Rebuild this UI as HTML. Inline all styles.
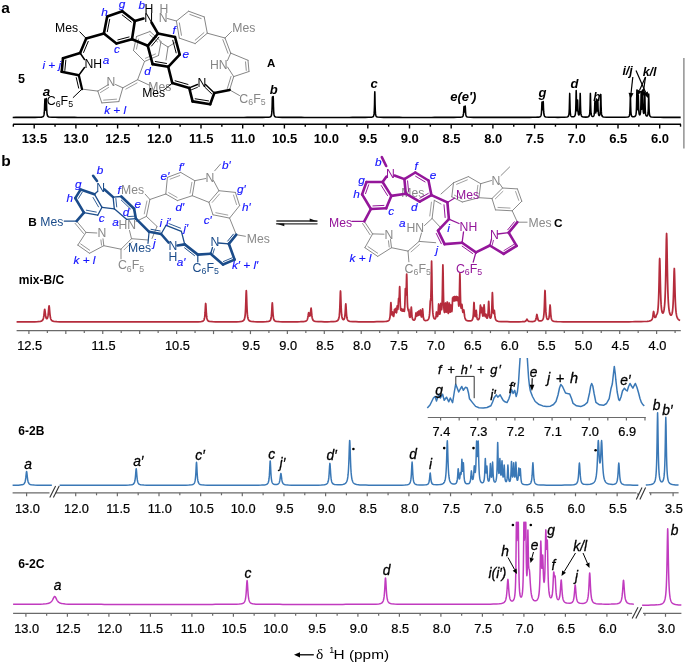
<!DOCTYPE html>
<html><head><meta charset="utf-8"><style>
html,body{margin:0;padding:0;background:#fff;}
svg{display:block;font-family:"Liberation Sans",sans-serif;filter:blur(0.35px);}
</style></head><body>
<svg width="685" height="663" viewBox="0 0 685 663">
<rect width="685" height="663" fill="#fff"/>
<text x="1.2" y="12.8" font-size="15.5" fill="#000" font-weight="bold">a</text>
<text x="1.2" y="165.8" font-size="15.5" fill="#000" font-weight="bold">b</text>
<line x1="13.1" y1="124.3" x2="681" y2="124.3" stroke="#000" stroke-width="1.4"/>
<line x1="13.35" y1="124.3" x2="13.35" y2="126.7" stroke="#000" stroke-width="1.4"/>
<line x1="34.2" y1="124.3" x2="34.2" y2="128.5" stroke="#000" stroke-width="1.4"/>
<line x1="55.05" y1="124.3" x2="55.05" y2="126.7" stroke="#000" stroke-width="1.4"/>
<line x1="75.9" y1="124.3" x2="75.9" y2="128.5" stroke="#000" stroke-width="1.4"/>
<line x1="96.75" y1="124.3" x2="96.75" y2="126.7" stroke="#000" stroke-width="1.4"/>
<line x1="117.6" y1="124.3" x2="117.6" y2="128.5" stroke="#000" stroke-width="1.4"/>
<line x1="138.45" y1="124.3" x2="138.45" y2="126.7" stroke="#000" stroke-width="1.4"/>
<line x1="159.3" y1="124.3" x2="159.3" y2="128.5" stroke="#000" stroke-width="1.4"/>
<line x1="180.15" y1="124.3" x2="180.15" y2="126.7" stroke="#000" stroke-width="1.4"/>
<line x1="201" y1="124.3" x2="201" y2="128.5" stroke="#000" stroke-width="1.4"/>
<line x1="221.85" y1="124.3" x2="221.85" y2="126.7" stroke="#000" stroke-width="1.4"/>
<line x1="242.7" y1="124.3" x2="242.7" y2="128.5" stroke="#000" stroke-width="1.4"/>
<line x1="263.55" y1="124.3" x2="263.55" y2="126.7" stroke="#000" stroke-width="1.4"/>
<line x1="284.4" y1="124.3" x2="284.4" y2="128.5" stroke="#000" stroke-width="1.4"/>
<line x1="305.25" y1="124.3" x2="305.25" y2="126.7" stroke="#000" stroke-width="1.4"/>
<line x1="326.1" y1="124.3" x2="326.1" y2="128.5" stroke="#000" stroke-width="1.4"/>
<line x1="346.95" y1="124.3" x2="346.95" y2="126.7" stroke="#000" stroke-width="1.4"/>
<line x1="367.8" y1="124.3" x2="367.8" y2="128.5" stroke="#000" stroke-width="1.4"/>
<line x1="388.65" y1="124.3" x2="388.65" y2="126.7" stroke="#000" stroke-width="1.4"/>
<line x1="409.5" y1="124.3" x2="409.5" y2="128.5" stroke="#000" stroke-width="1.4"/>
<line x1="430.35" y1="124.3" x2="430.35" y2="126.7" stroke="#000" stroke-width="1.4"/>
<line x1="451.2" y1="124.3" x2="451.2" y2="128.5" stroke="#000" stroke-width="1.4"/>
<line x1="472.05" y1="124.3" x2="472.05" y2="126.7" stroke="#000" stroke-width="1.4"/>
<line x1="492.9" y1="124.3" x2="492.9" y2="128.5" stroke="#000" stroke-width="1.4"/>
<line x1="513.75" y1="124.3" x2="513.75" y2="126.7" stroke="#000" stroke-width="1.4"/>
<line x1="534.6" y1="124.3" x2="534.6" y2="128.5" stroke="#000" stroke-width="1.4"/>
<line x1="555.45" y1="124.3" x2="555.45" y2="126.7" stroke="#000" stroke-width="1.4"/>
<line x1="576.3" y1="124.3" x2="576.3" y2="128.5" stroke="#000" stroke-width="1.4"/>
<line x1="597.15" y1="124.3" x2="597.15" y2="126.7" stroke="#000" stroke-width="1.4"/>
<line x1="618" y1="124.3" x2="618" y2="128.5" stroke="#000" stroke-width="1.4"/>
<line x1="638.85" y1="124.3" x2="638.85" y2="126.7" stroke="#000" stroke-width="1.4"/>
<line x1="659.7" y1="124.3" x2="659.7" y2="128.5" stroke="#000" stroke-width="1.4"/>
<line x1="680.55" y1="124.3" x2="680.55" y2="126.7" stroke="#000" stroke-width="1.4"/>
<text x="34.5" y="143.4" font-size="13" fill="#000" font-weight="bold" text-anchor="middle">13.5</text>
<text x="76.2" y="143.4" font-size="13" fill="#000" font-weight="bold" text-anchor="middle">13.0</text>
<text x="117.9" y="143.4" font-size="13" fill="#000" font-weight="bold" text-anchor="middle">12.5</text>
<text x="159.6" y="143.4" font-size="13" fill="#000" font-weight="bold" text-anchor="middle">12.0</text>
<text x="201.3" y="143.4" font-size="13" fill="#000" font-weight="bold" text-anchor="middle">11.5</text>
<text x="243" y="143.4" font-size="13" fill="#000" font-weight="bold" text-anchor="middle">11.0</text>
<text x="284.7" y="143.4" font-size="13" fill="#000" font-weight="bold" text-anchor="middle">10.5</text>
<text x="326.4" y="143.4" font-size="13" fill="#000" font-weight="bold" text-anchor="middle">10.0</text>
<text x="368.1" y="143.4" font-size="13" fill="#000" font-weight="bold" text-anchor="middle">9.5</text>
<text x="409.8" y="143.4" font-size="13" fill="#000" font-weight="bold" text-anchor="middle">9.0</text>
<text x="451.5" y="143.4" font-size="13" fill="#000" font-weight="bold" text-anchor="middle">8.5</text>
<text x="493.2" y="143.4" font-size="13" fill="#000" font-weight="bold" text-anchor="middle">8.0</text>
<text x="534.9" y="143.4" font-size="13" fill="#000" font-weight="bold" text-anchor="middle">7.5</text>
<text x="576.6" y="143.4" font-size="13" fill="#000" font-weight="bold" text-anchor="middle">7.0</text>
<text x="618.3" y="143.4" font-size="13" fill="#000" font-weight="bold" text-anchor="middle">6.5</text>
<text x="660" y="143.4" font-size="13" fill="#000" font-weight="bold" text-anchor="middle">6.0</text>
<polyline points="12.7,117.4 15.9,117.39 19.1,117.39 22.3,117.39 25.5,117.39 28.7,117.38 31.9,117.38 35.1,117.36 38.3,117.32 41.5,117.12 42.1,117.01 42.3,116.96 42.5,116.89 42.7,116.8 42.9,116.7 43.1,116.56 43.3,116.37 43.5,116.1 43.7,115.72 43.9,115.13 44.1,114.17 44.3,112.46 44.5,109.23 44.7,103.51 44.9,99 44.9,99 45.1,102.92 45.3,107.93 45.5,110.12 45.7,110.07 45.9,107.75 46.1,102.56 46.3,98.5 46.3,98.5 46.5,103.13 46.7,109.01 46.9,112.34 47.1,114.1 47.3,115.09 47.5,115.69 47.7,116.08 47.9,116.35 48.1,116.54 48.3,116.69 48.5,116.8 48.7,116.88 48.9,116.95 49.1,117.01 52.1,117.29 55.3,117.35 58.5,117.37 61.7,117.38 64.9,117.39 68.1,117.39 71.3,117.39 74.5,117.39 77.7,117.4 80.9,117.4 84.1,117.4 87.3,117.4 90.5,117.4 93.7,117.4 96.9,117.4 100.1,117.4 103.3,117.4 106.5,117.4 109.7,117.4 112.9,117.4 116.1,117.4 119.3,117.4 122.5,117.4 125.7,117.4 128.9,117.4 131.9,117.4 135.1,117.4 138.3,117.4 141.5,117.4 144.7,117.4 147.9,117.4 151.1,117.4 154.3,117.4 157.5,117.4 160.7,117.4 163.9,117.4 167.1,117.4 170.3,117.4 173.5,117.4 176.7,117.4 179.9,117.4 183.1,117.4 186.3,117.4 189.5,117.4 192.7,117.4 195.9,117.4 199.1,117.4 202.3,117.4 205.5,117.4 208.7,117.4 211.9,117.4 215.1,117.4 218.3,117.4 221.5,117.4 224.7,117.4 227.9,117.4 231.1,117.4 234.3,117.4 237.5,117.4 240.7,117.4 243.9,117.4 247.1,117.39 250.3,117.39 253.5,117.39 256.5,117.39 259.5,117.38 262.7,117.37 265.9,117.33 269.1,117.15 269.7,117.04 269.9,116.99 270.1,116.92 270.3,116.84 270.5,116.73 270.7,116.59 270.9,116.39 271.1,116.11 271.3,115.69 271.5,115.03 271.7,113.87 271.9,111.66 272.1,107.06 272.3,99.24 272.4,97 272.5,98.21 272.7,103.41 272.9,103.27 273.1,97.79 273.2,96.5 273.3,98.79 273.5,106.81 273.7,111.54 273.9,113.81 274.1,114.99 274.3,115.67 274.5,116.09 274.7,116.38 274.9,116.58 275.1,116.72 275.3,116.83 275.5,116.92 275.7,116.99 275.9,117.04 278.9,117.31 282.1,117.36 285.3,117.38 288.5,117.39 291.7,117.39 294.9,117.39 298.1,117.39 301.3,117.39 304.5,117.4 307.7,117.4 310.9,117.4 314.1,117.4 317.3,117.4 320.5,117.4 323.7,117.4 326.9,117.4 330.1,117.4 333.3,117.4 336.5,117.4 339.7,117.4 342.9,117.4 346.1,117.4 349.3,117.4 352.5,117.39 355.7,117.39 358.9,117.39 362.1,117.38 365.3,117.37 368.5,117.34 371.7,117.16 372.1,117.09 372.3,117.04 372.5,116.97 372.7,116.89 372.9,116.78 373.1,116.63 373.3,116.41 373.5,116.1 373.7,115.63 373.9,114.84 374.1,113.43 374.3,110.62 374.5,104.6 374.7,94.36 374.8,91.8 374.9,94.36 375.1,104.6 375.3,110.62 375.5,113.43 375.7,114.84 375.9,115.63 376.1,116.1 376.3,116.41 376.5,116.63 376.7,116.78 376.9,116.89 377.1,116.97 377.3,117.04 377.5,117.09 380.5,117.33 383.5,117.37 386.7,117.38 389.9,117.39 393.1,117.39 396.3,117.39 399.5,117.39 402.7,117.4 405.9,117.4 409.1,117.4 412.3,117.4 415.5,117.4 418.7,117.4 421.9,117.4 425.1,117.4 428.3,117.4 431.5,117.4 434.7,117.39 437.9,117.39 441.1,117.39 444.3,117.39 447.5,117.39 450.7,117.38 453.9,117.38 457.1,117.35 460.3,117.25 461.7,117.06 461.9,117.01 462.1,116.93 462.3,116.84 462.5,116.7 462.7,116.51 462.9,116.23 463.1,115.79 463.3,115.04 463.5,113.66 463.7,111.05 463.9,107.37 464,106.5 464.1,107.12 464.3,110.2 464.5,111.97 464.7,111.9 464.9,109.96 465.1,106.66 465.2,106 465.3,106.91 465.5,110.76 465.7,113.5 465.9,114.95 466.1,115.73 466.3,116.19 466.5,116.49 466.7,116.68 466.9,116.82 467.1,116.92 467.3,117 467.5,117.06 470.5,117.32 473.5,117.36 476.5,117.38 479.5,117.39 482.7,117.39 485.9,117.39 489.1,117.39 492.3,117.39 495.5,117.39 498.7,117.39 501.9,117.39 505.1,117.39 508.3,117.39 511.5,117.39 514.7,117.39 517.7,117.39 520.7,117.39 523.7,117.38 526.7,117.38 529.7,117.37 532.7,117.35 535.7,117.31 538.7,117.14 539.3,117.04 539.5,116.98 539.7,116.92 539.9,116.84 540.1,116.74 540.3,116.6 540.5,116.41 540.7,116.14 540.9,115.75 541.1,115.12 541.3,114.06 541.5,112.11 541.7,108.42 541.9,103.23 542,102 542.1,102.87 542.3,107.24 542.5,109.75 542.7,109.68 542.9,107 543.1,102.42 543.2,101.5 543.3,102.77 543.5,108.14 543.7,111.95 543.9,113.97 544.1,115.06 544.3,115.71 544.5,116.11 544.7,116.39 544.9,116.58 545.1,116.72 545.3,116.83 545.5,116.91 545.7,116.97 545.9,117.03 548.9,117.29 551.9,117.34 554.9,117.35 557.9,117.35 561.1,117.33 564.1,117.28 567.1,117.01 567.3,116.96 567.5,116.89 567.7,116.79 567.9,116.67 568.1,116.5 568.3,116.26 568.5,115.9 568.7,115.33 568.9,114.36 569.1,112.52 569.3,108.69 569.5,100.75 569.7,93.4 569.7,93.4 569.9,100.74 570.1,108.67 570.3,112.49 570.5,114.31 570.7,115.28 570.9,115.83 571.1,116.18 571.3,116.41 571.5,116.56 571.7,116.67 571.9,116.74 572.1,116.79 573.7,116.73 573.9,116.66 574.1,116.57 574.3,116.45 574.5,116.28 574.7,116.05 574.9,115.71 575.1,115.19 575.3,114.35 575.5,112.86 575.7,109.94 575.9,103.73 576.1,93.19 576.2,90.5 576.3,92.99 576.5,103.07 576.7,108.68 576.9,110.63 577.1,110.31 577.3,107.34 577.5,101.44 577.6,100 577.7,101.7 577.9,108.21 578.1,112.02 578.3,113.77 578.5,114.6 578.7,114.96 578.9,115.02 579.1,114.81 579.3,114.25 579.5,113.07 579.7,110.58 579.9,105.11 580.1,95.73 580.2,93.4 580.3,95.78 580.5,105.25 580.7,110.83 580.9,113.43 581.1,114.76 581.3,115.5 581.5,115.96 581.7,116.26 581.9,116.46 582.1,116.61 582.3,116.72 582.5,116.8 582.7,116.87 582.9,116.92 585.9,117.12 587.9,116.91 588.1,116.85 588.3,116.77 588.5,116.66 588.7,116.52 588.9,116.32 589.1,116.03 589.3,115.58 589.5,114.85 589.7,113.53 589.9,110.91 590.1,105.31 590.3,95.78 590.4,93.4 590.5,95.77 590.7,105.28 590.9,110.87 591.1,113.46 591.3,114.76 591.5,115.47 591.7,115.89 591.9,116.15 592.1,116.32 592.3,116.42 592.5,116.47 593.1,116.43 593.3,116.34 593.5,116.19 593.7,115.96 593.9,115.58 594.1,114.93 594.3,113.72 594.5,111.23 594.7,106.1 594.9,101.3 594.9,101.3 595.1,105.78 595.3,110.53 595.5,112.52 595.7,112.94 595.9,112.2 596.1,109.76 596.3,104.24 596.5,99 596.5,99 596.7,103.99 596.9,109.17 597.1,111.03 597.3,110.59 597.5,107.5 597.7,101.47 597.8,100 597.9,101.72 598.1,108.31 598.3,112.18 598.5,113.99 598.7,114.88 598.9,115.33 599.1,115.55 599.3,115.59 599.5,115.48 599.7,115.18 599.9,114.58 600.1,113.4 600.3,110.97 600.5,105.68 600.7,96.65 600.8,94.4 600.9,96.68 601.1,105.78 601.3,111.14 601.5,113.64 601.7,114.91 601.9,115.62 602.1,116.06 602.3,116.35 602.5,116.55 602.7,116.69 602.9,116.79 603.1,116.88 603.3,116.94 603.5,116.99 606.5,117.26 609.5,117.32 612.5,117.33 615.5,117.34 618.7,117.34 621.7,117.32 624.7,117.28 627.7,117.04 627.9,117 628.1,116.94 628.3,116.87 628.5,116.77 628.7,116.64 628.9,116.45 629.1,116.19 629.3,115.78 629.5,115.1 629.7,113.9 629.9,111.51 630.1,106.39 630.3,97.68 630.4,95.5 630.5,97.67 630.7,106.37 630.9,111.48 631.1,113.85 631.3,115.04 631.5,115.7 631.7,116.1 631.9,116.35 632.1,116.52 632.3,116.63 632.5,116.71 632.7,116.76 634.3,116.69 634.5,116.63 634.7,116.55 634.9,116.43 635.1,116.28 635.3,116.07 635.5,115.78 635.7,115.35 635.9,114.68 636.1,113.54 636.3,111.45 636.5,107.14 636.7,98.28 636.9,90 636.9,90 637.1,97.73 637.3,105.93 637.5,109.25 637.7,109.64 637.9,107.36 638.1,101.04 638.3,95 638.3,95 638.5,101.6 638.7,108.61 638.9,111.98 639.1,113.57 639.3,114.36 639.5,114.74 639.7,114.85 639.9,114.76 640.1,114.42 640.3,113.73 640.5,112.4 640.7,109.71 640.9,103.91 641.1,94.05 641.2,91.5 641.3,93.76 641.5,102.98 641.7,107.88 641.9,109.11 642.1,107.62 642.3,102.29 642.5,92.43 642.6,90 642.7,92.66 642.9,103.04 643.1,109.09 643.3,111.82 643.5,113.04 643.7,113.46 643.9,113.28 644.1,112.35 644.3,110.06 644.5,104.79 644.7,95.66 644.8,93.4 644.9,95.76 645.1,105.08 645.3,110.57 645.5,113.14 645.7,114.43 645.9,115.15 646.1,115.58 646.3,115.83 646.5,115.98 646.7,116.06 646.9,116.06 647.1,115.99 647.3,115.84 647.5,115.55 647.7,115.05 647.9,114.15 648.1,112.42 648.3,108.75 648.5,101.09 648.7,94 648.7,94 648.9,101.13 649.1,108.83 649.3,112.55 649.5,114.34 649.7,115.29 649.9,115.85 650.1,116.21 650.3,116.45 650.5,116.61 650.7,116.74 650.9,116.83 651.1,116.91 651.3,116.96 654.3,117.26 657.3,117.32 660.3,117.35 663.5,117.36 666.5,117.37 669.5,117.38 672.5,117.38 675.5,117.38 678.5,117.39 680.7,117.39" fill="none" stroke="#000" stroke-width="1.55" stroke-linejoin="round"/>
<text x="18" y="82.9" font-size="12.5" fill="#000" font-weight="bold">5</text>
<text x="267" y="67" font-size="11.5" fill="#000" font-weight="bold">A</text>
<text x="46.6" y="95.8" font-size="13.5" fill="#000" font-weight="bold" font-style="italic" text-anchor="middle">a</text>
<text x="273.8" y="93.6" font-size="13" fill="#000" font-weight="bold" font-style="italic" text-anchor="middle">b</text>
<text x="374" y="87.9" font-size="13" fill="#000" font-weight="bold" font-style="italic" text-anchor="middle">c</text>
<text x="463.3" y="101.3" font-size="13" fill="#000" font-weight="bold" font-style="italic" text-anchor="middle">e(e′)</text>
<text x="542.6" y="96.7" font-size="13" fill="#000" font-weight="bold" font-style="italic" text-anchor="middle">g</text>
<text x="574.6" y="87.5" font-size="13" fill="#000" font-weight="bold" font-style="italic" text-anchor="middle">d</text>
<text x="597" y="101.3" font-size="12" fill="#000" font-weight="bold" font-style="italic" text-anchor="middle">h</text>
<text x="627.6" y="74.6" font-size="12.5" fill="#000" font-weight="bold" font-style="italic" text-anchor="middle">i/j</text>
<text x="649.6" y="75.6" font-size="12.5" fill="#000" font-weight="bold" font-style="italic" text-anchor="middle">k/l</text>
<line x1="683.9" y1="58" x2="683.9" y2="148.5" stroke="#777" stroke-width="1.2"/>
<line x1="16.6" y1="330.6" x2="680.8" y2="330.6" stroke="#6a6a6a" stroke-width="1.2"/>
<line x1="28.9" y1="330.6" x2="28.9" y2="334.1" stroke="#6a6a6a" stroke-width="1.2"/>
<line x1="47.36" y1="330.6" x2="47.36" y2="333.1" stroke="#6a6a6a" stroke-width="1.2"/>
<line x1="65.82" y1="330.6" x2="65.82" y2="334.1" stroke="#6a6a6a" stroke-width="1.2"/>
<line x1="84.29" y1="330.6" x2="84.29" y2="333.1" stroke="#6a6a6a" stroke-width="1.2"/>
<line x1="102.75" y1="330.6" x2="102.75" y2="334.1" stroke="#6a6a6a" stroke-width="1.2"/>
<line x1="121.21" y1="330.6" x2="121.21" y2="333.1" stroke="#6a6a6a" stroke-width="1.2"/>
<line x1="139.67" y1="330.6" x2="139.67" y2="334.1" stroke="#6a6a6a" stroke-width="1.2"/>
<line x1="158.14" y1="330.6" x2="158.14" y2="333.1" stroke="#6a6a6a" stroke-width="1.2"/>
<line x1="176.6" y1="330.6" x2="176.6" y2="334.1" stroke="#6a6a6a" stroke-width="1.2"/>
<line x1="195.06" y1="330.6" x2="195.06" y2="333.1" stroke="#6a6a6a" stroke-width="1.2"/>
<line x1="213.53" y1="330.6" x2="213.53" y2="334.1" stroke="#6a6a6a" stroke-width="1.2"/>
<line x1="231.99" y1="330.6" x2="231.99" y2="333.1" stroke="#6a6a6a" stroke-width="1.2"/>
<line x1="250.45" y1="330.6" x2="250.45" y2="334.1" stroke="#6a6a6a" stroke-width="1.2"/>
<line x1="268.91" y1="330.6" x2="268.91" y2="333.1" stroke="#6a6a6a" stroke-width="1.2"/>
<line x1="287.37" y1="330.6" x2="287.37" y2="334.1" stroke="#6a6a6a" stroke-width="1.2"/>
<line x1="305.84" y1="330.6" x2="305.84" y2="333.1" stroke="#6a6a6a" stroke-width="1.2"/>
<line x1="324.3" y1="330.6" x2="324.3" y2="334.1" stroke="#6a6a6a" stroke-width="1.2"/>
<line x1="342.76" y1="330.6" x2="342.76" y2="333.1" stroke="#6a6a6a" stroke-width="1.2"/>
<line x1="361.22" y1="330.6" x2="361.22" y2="334.1" stroke="#6a6a6a" stroke-width="1.2"/>
<line x1="379.69" y1="330.6" x2="379.69" y2="333.1" stroke="#6a6a6a" stroke-width="1.2"/>
<line x1="398.15" y1="330.6" x2="398.15" y2="334.1" stroke="#6a6a6a" stroke-width="1.2"/>
<line x1="416.61" y1="330.6" x2="416.61" y2="333.1" stroke="#6a6a6a" stroke-width="1.2"/>
<line x1="435.07" y1="330.6" x2="435.07" y2="334.1" stroke="#6a6a6a" stroke-width="1.2"/>
<line x1="453.54" y1="330.6" x2="453.54" y2="333.1" stroke="#6a6a6a" stroke-width="1.2"/>
<line x1="472" y1="330.6" x2="472" y2="334.1" stroke="#6a6a6a" stroke-width="1.2"/>
<line x1="490.46" y1="330.6" x2="490.46" y2="333.1" stroke="#6a6a6a" stroke-width="1.2"/>
<line x1="508.92" y1="330.6" x2="508.92" y2="334.1" stroke="#6a6a6a" stroke-width="1.2"/>
<line x1="527.39" y1="330.6" x2="527.39" y2="333.1" stroke="#6a6a6a" stroke-width="1.2"/>
<line x1="545.85" y1="330.6" x2="545.85" y2="334.1" stroke="#6a6a6a" stroke-width="1.2"/>
<line x1="564.31" y1="330.6" x2="564.31" y2="333.1" stroke="#6a6a6a" stroke-width="1.2"/>
<line x1="582.77" y1="330.6" x2="582.77" y2="334.1" stroke="#6a6a6a" stroke-width="1.2"/>
<line x1="601.24" y1="330.6" x2="601.24" y2="333.1" stroke="#6a6a6a" stroke-width="1.2"/>
<line x1="619.7" y1="330.6" x2="619.7" y2="334.1" stroke="#6a6a6a" stroke-width="1.2"/>
<line x1="638.16" y1="330.6" x2="638.16" y2="333.1" stroke="#6a6a6a" stroke-width="1.2"/>
<line x1="656.62" y1="330.6" x2="656.62" y2="334.1" stroke="#6a6a6a" stroke-width="1.2"/>
<line x1="675.09" y1="330.6" x2="675.09" y2="333.1" stroke="#6a6a6a" stroke-width="1.2"/>
<text x="29.7" y="350.4" font-size="12.8" fill="#000" text-anchor="middle" stroke="#000" stroke-width="0.22">12.5</text>
<text x="103.55" y="350.4" font-size="12.8" fill="#000" text-anchor="middle" stroke="#000" stroke-width="0.22">11.5</text>
<text x="177.4" y="350.4" font-size="12.8" fill="#000" text-anchor="middle" stroke="#000" stroke-width="0.22">10.5</text>
<text x="251.25" y="350.4" font-size="12.8" fill="#000" text-anchor="middle" stroke="#000" stroke-width="0.22">9.5</text>
<text x="288.17" y="350.4" font-size="12.8" fill="#000" text-anchor="middle" stroke="#000" stroke-width="0.22">9.0</text>
<text x="325.1" y="350.4" font-size="12.8" fill="#000" text-anchor="middle" stroke="#000" stroke-width="0.22">8.5</text>
<text x="362.02" y="350.4" font-size="12.8" fill="#000" text-anchor="middle" stroke="#000" stroke-width="0.22">8.0</text>
<text x="398.95" y="350.4" font-size="12.8" fill="#000" text-anchor="middle" stroke="#000" stroke-width="0.22">7.5</text>
<text x="435.87" y="350.4" font-size="12.8" fill="#000" text-anchor="middle" stroke="#000" stroke-width="0.22">7.0</text>
<text x="472.8" y="350.4" font-size="12.8" fill="#000" text-anchor="middle" stroke="#000" stroke-width="0.22">6.5</text>
<text x="509.72" y="350.4" font-size="12.8" fill="#000" text-anchor="middle" stroke="#000" stroke-width="0.22">6.0</text>
<text x="546.65" y="350.4" font-size="12.8" fill="#000" text-anchor="middle" stroke="#000" stroke-width="0.22">5.5</text>
<text x="583.57" y="350.4" font-size="12.8" fill="#000" text-anchor="middle" stroke="#000" stroke-width="0.22">5.0</text>
<text x="620.5" y="350.4" font-size="12.8" fill="#000" text-anchor="middle" stroke="#000" stroke-width="0.22">4.5</text>
<text x="657.42" y="350.4" font-size="12.8" fill="#000" text-anchor="middle" stroke="#000" stroke-width="0.22">4.0</text>
<text x="18.8" y="284" font-size="12" fill="#000" font-weight="bold">mix-B/C</text>
<polyline points="16.6,321.88 19.6,321.87 22.6,321.87 25.6,321.86 28.6,321.84 31.6,321.82 34.6,321.78 37.6,321.67 40.35,321.38 40.6,321.32 40.85,321.26 41.1,321.18 41.35,321.09 41.6,320.97 41.85,320.83 42.1,320.66 42.35,320.44 42.6,320.14 42.85,319.76 43.1,319.23 43.35,318.48 43.6,317.42 43.85,315.91 44.1,313.83 44.35,311.4 44.6,309.61 44.7,309.4 44.85,309.77 45.1,311.7 45.35,313.99 45.6,315.83 45.85,317.09 46.1,317.91 46.35,318.4 46.6,318.64 46.85,318.69 47.1,318.54 47.35,318.2 47.6,317.59 47.85,316.63 48.1,315.17 48.35,313.04 48.6,310.19 48.85,307.24 49.1,305.9 49.35,307.33 49.6,310.36 49.85,313.3 50.1,315.55 50.35,317.12 50.6,318.22 50.85,319 51.1,319.56 51.35,319.97 51.6,320.29 51.85,320.53 52.1,320.72 52.35,320.88 52.6,321 52.85,321.1 53.1,321.19 53.35,321.26 53.6,321.32 53.85,321.38 56.85,321.68 59.85,321.78 62.85,321.82 66.1,321.85 69.1,321.86 72.1,321.87 75.1,321.87 78.1,321.88 81.1,321.88 84.1,321.88 87.1,321.89 90.1,321.89 93.1,321.89 96.1,321.89 99.1,321.89 102.1,321.89 105.1,321.89 108.1,321.89 111.1,321.89 114.1,321.89 117.1,321.89 120.1,321.89 123.1,321.89 126.1,321.89 129.1,321.89 132.1,321.89 135.1,321.89 138.1,321.89 141.1,321.89 144.1,321.89 147.1,321.89 150.1,321.89 153.1,321.89 156.1,321.89 159.1,321.89 162.1,321.89 165.1,321.89 168.1,321.89 171.1,321.89 174.1,321.88 177.1,321.88 180.1,321.88 183.1,321.88 186.1,321.87 189.1,321.87 192.1,321.85 195.1,321.83 198.1,321.77 201.1,321.58 201.6,321.5 201.85,321.45 202.1,321.39 202.35,321.31 202.6,321.22 202.85,321.11 203.1,320.96 203.35,320.76 203.6,320.5 203.85,320.14 204.1,319.62 204.35,318.85 204.6,317.67 204.85,315.77 205.1,312.69 205.35,308.17 205.6,304 205.7,303.5 205.85,304.58 206.1,309.16 206.35,313.43 206.6,316.23 206.85,317.95 207.1,319.03 207.35,319.74 207.6,320.22 207.85,320.55 208.1,320.8 208.35,320.99 208.6,321.13 208.85,321.24 209.1,321.33 209.35,321.4 209.6,321.46 212.6,321.74 215.6,321.81 218.6,321.84 221.6,321.84 224.6,321.85 227.6,321.84 230.6,321.83 233.6,321.81 236.6,321.76 239.6,321.63 241.6,321.38 241.85,321.32 242.1,321.25 242.35,321.17 242.6,321.07 242.85,320.96 243.1,320.81 243.35,320.63 243.6,320.4 243.85,320.11 244.1,319.71 244.35,319.17 244.6,318.41 244.85,317.3 245.1,315.62 245.35,312.96 245.6,308.63 245.85,301.86 246.1,293.73 246.3,290.6 246.35,290.82 246.6,296.85 246.85,304.88 247.1,310.61 247.35,314.17 247.6,316.38 247.85,317.8 248.1,318.75 248.35,319.4 248.6,319.88 248.85,320.23 249.1,320.5 249.35,320.71 249.6,320.87 249.85,321 250.1,321.11 250.35,321.2 250.6,321.27 250.85,321.33 251.1,321.39 254.1,321.68 257.1,321.76 260.1,321.78 263.1,321.76 266.1,321.68 268.35,321.43 268.6,321.37 268.85,321.3 269.1,321.21 269.35,321.1 269.6,320.97 269.85,320.79 270.1,320.55 270.35,320.22 270.6,319.76 270.85,319.09 271.1,318.07 271.35,316.45 271.6,313.83 271.85,309.73 272.1,304.8 272.3,302.9 272.35,303.03 272.6,306.69 272.85,311.56 273.1,315.04 273.35,317.19 273.6,318.53 273.85,319.39 274.1,319.97 274.35,320.37 274.6,320.65 274.85,320.87 275.1,321.03 275.35,321.16 275.6,321.26 275.85,321.34 276.1,321.4 276.35,321.46 279.35,321.73 282.35,321.79 285.35,321.82 288.35,321.82 291.35,321.82 294.35,321.81 297.35,321.79 300.35,321.74 303.35,321.58 304.6,321.42 304.85,321.37 305.1,321.31 305.35,321.24 305.6,321.15 305.85,321.04 306.1,320.91 306.35,320.74 306.6,320.53 306.85,320.24 307.1,319.85 307.35,319.31 307.6,318.55 307.85,317.46 308.1,315.98 308.35,314.24 308.6,312.9 308.7,312.7 308.85,312.85 309.1,313.94 309.35,315.18 309.6,315.96 309.85,316.13 310.1,315.63 310.35,314.33 310.6,312.13 310.85,309.48 311.1,308.2 311.35,309.79 311.6,312.78 311.85,315.38 312.1,317.21 312.35,318.42 312.6,319.23 312.85,319.79 313.1,320.19 313.35,320.49 313.6,320.71 313.85,320.88 314.1,321.02 314.35,321.12 314.6,321.21 314.85,321.29 315.1,321.35 315.35,321.4 318.35,321.67 321.35,321.74 324.35,321.76 327.35,321.75 330.35,321.71 333.35,321.6 335.6,321.34 335.85,321.29 336.1,321.23 336.35,321.16 336.6,321.07 336.85,320.97 337.1,320.85 337.35,320.69 337.6,320.5 337.85,320.26 338.1,319.95 338.35,319.53 338.6,318.96 338.85,318.15 339.1,316.96 339.35,315.15 339.6,312.27 339.85,307.59 340.1,300.46 340.35,292.81 340.5,291 340.6,291.82 340.85,298.75 341.1,306.26 341.35,311.35 341.6,314.48 341.85,316.41 342.1,317.63 342.35,318.42 342.6,318.95 342.85,319.28 343.1,319.48 343.35,319.56 343.6,319.53 343.85,319.38 344.1,319.08 344.35,318.56 344.6,317.7 344.85,316.27 345.1,313.9 345.35,310.15 345.6,305.63 345.8,303.9 345.85,304.03 346.1,307.45 346.35,311.99 346.6,315.24 346.85,317.26 347.1,318.52 347.35,319.33 347.6,319.88 347.85,320.27 348.1,320.54 348.35,320.75 348.6,320.92 348.85,321.04 349.1,321.14 349.35,321.23 349.6,321.29 349.85,321.35 352.85,321.65 355.85,321.74 358.85,321.77 361.85,321.79 364.85,321.79 367.85,321.79 370.85,321.78 373.85,321.77 376.85,321.74 379.85,321.7 382.85,321.62 385.85,321.42 386.85,321.27 387.1,321.22 387.35,321.16 387.6,321.09 387.85,321 388.1,320.89 388.35,320.75 388.6,320.58 388.85,320.34 389.1,320.02 389.35,319.57 389.6,318.89 389.85,317.82 390.1,316.01 390.35,312.81 390.6,307.58 390.85,302.82 390.9,302.6 391.1,304.9 391.35,310.15 391.6,313.51 391.85,314.84 392.1,314.62 392.35,313.12 392.6,312 392.85,313.47 393.1,315.43 393.35,316.4 393.6,316.41 393.85,315.49 394.1,313.37 394.35,310.38 394.5,309.4 394.6,309.54 394.85,311.36 395.1,312.23 395.35,311.01 395.6,308.8 395.7,308.5 395.85,309.22 396.1,311.65 396.35,312.9 396.6,312.32 396.85,309.85 397.1,306.57 397.2,306 397.35,306.54 397.6,308.84 397.85,309.47 398.1,307.41 398.35,302.65 398.6,298.5 398.85,299.31 399.1,299.51 399.35,294.64 399.6,287.47 399.7,286.7 399.85,289.6 400.1,299.17 400.35,306.17 400.6,309.52 400.85,310.23 401.1,309.12 401.3,308.5 401.35,308.6 401.6,310.17 401.85,310.82 402.1,309.62 402.2,309.4 402.35,310.04 402.6,311.15 402.85,310.01 403,309.4 403.1,309.68 403.35,311.03 403.6,310.32 403.8,309.4 403.85,309.47 404.1,310.97 404.35,311.3 404.6,309.45 404.85,304.94 405.1,296.99 405.35,289.18 405.4,288.6 405.6,290.5 405.85,294.99 406.1,294.09 406.35,286.03 406.6,275.3 406.7,274.1 406.85,278.13 407.1,291.72 407.35,301.83 407.6,306.86 407.85,308.49 408,309 408.1,309.61 408.35,310.93 408.6,310.04 408.8,309.4 408.85,309.69 409.1,313.01 409.35,315.66 409.6,316.94 409.85,317.44 410.1,317.41 410.35,316.85 410.6,315.5 410.85,312.83 411.1,308.85 411.3,307.1 411.35,307.25 411.6,310.74 411.85,314.58 412.1,316.92 412.35,318.24 412.6,319.01 412.85,319.48 413.1,319.77 413.35,319.96 413.6,320.06 414.1,320.08 414.35,319.98 414.6,319.8 414.85,319.47 415.1,318.89 415.35,317.86 415.6,316.07 415.85,313.72 416,313 416.1,313.16 416.35,314.84 416.6,316.07 416.85,316.05 417.1,314.75 417.35,312.62 417.5,312 417.6,312.24 417.85,314.12 418.1,315.46 418.35,315.44 418.6,314.02 418.85,311.68 419,311 419.1,311.28 419.35,313.39 419.6,314.9 419.85,314.88 420.1,313.29 420.35,310.68 420.5,310 420.6,310.42 420.85,313.24 421.1,315.63 421.35,316.77 421.6,316.95 421.85,316.24 422.1,314.35 422.35,311.07 422.6,308.9 422.85,311.35 423.1,314.94 423.35,317.25 423.6,318.55 423.85,319.31 424.1,319.77 424.35,320.07 424.6,320.26 424.85,320.39 425.1,320.48 425.35,320.53 426.6,320.47 426.85,320.4 427.1,320.31 427.35,320.19 427.6,320.04 427.85,319.84 428.1,319.58 428.35,319.25 428.6,318.8 428.85,318.18 429.1,317.27 429.35,315.9 429.6,313.68 429.85,309.99 430.1,304.64 430.3,301.2 430.35,300.79 430.6,300.38 430.85,297.64 431.1,288.55 431.35,272.21 431.6,261.2 431.85,273.31 432.1,291.12 432.35,302.54 432.6,308.95 432.85,312.64 433.1,314.9 433.35,316.34 433.6,317.3 433.85,317.96 434.1,318.4 434.35,318.69 434.6,318.86 434.85,318.9 435.1,318.82 435.35,318.56 435.6,318.02 435.85,316.99 436.1,315.14 436.35,312.71 436.5,312 436.6,312.23 436.85,314.22 437.1,315.88 437.35,316.52 437.6,316.35 437.85,315.34 438.1,313.14 438.35,309.17 438.6,304.65 438.7,304 438.85,305.14 439.1,309.56 439.35,312.74 439.6,314.11 439.85,314.16 440.1,312.95 440.35,310.11 440.6,305.7 440.8,303.5 440.85,303.53 441.1,306.32 441.35,309.07 441.6,309.59 441.85,307.87 442.1,303.38 442.35,294.45 442.6,279.23 442.85,265.43 442.9,264.9 443.1,272.47 443.35,289.36 443.6,300.96 443.85,307.31 444.1,310.65 444.35,312.22 444.6,312.48 444.85,311.36 445.1,308.39 445.35,304.15 445.5,303 445.6,303.56 445.85,307.63 446.1,310.95 446.35,312.18 446.6,311.51 446.85,308.75 447.1,304.1 447.3,302 447.35,302.18 447.6,306.27 447.85,310.61 448.1,312.84 448.35,313.37 448.6,312.41 448.85,309.61 449.1,305.09 449.3,303 449.35,303.13 449.6,306.79 449.85,310.59 450.1,312.23 450.35,311.91 450.6,309.62 450.85,306.03 451,305 451.1,305.43 451.35,308.73 451.6,311.2 451.85,311.5 452.1,309.32 452.35,303.69 452.6,298 452.85,300.29 453.1,300.75 453.35,297.21 453.4,297 453.6,299.19 453.85,300.95 454.1,297.71 454.2,297 454.35,298.34 454.6,300.83 454.85,297.97 455,296.5 455.1,297.21 455.35,300.64 455.6,299.12 455.8,297 455.85,297.17 456.1,300.37 456.35,299.57 456.6,296.5 456.85,299.55 457.1,300.34 457.35,297.17 457.4,297 457.6,299.18 457.85,300.89 458.1,297.92 458.2,297.5 458.35,299.62 458.6,304.74 458.85,306.2 459.1,303.91 459.35,297.3 459.6,285.25 459.85,274.13 459.9,273.7 460.1,279.77 460.35,293.23 460.6,302.18 460.85,306.55 461.1,308.02 461.35,307.47 461.6,305.65 461.85,304.37 461.9,304.4 462.1,305.62 462.35,308.49 462.6,310.93 462.85,312.23 463.1,312.37 463.35,311.51 463.6,310.26 463.8,310 463.85,310.14 464.1,311.88 464.35,314.23 464.6,316.13 464.85,317.46 465.1,318.36 465.35,318.99 465.6,319.44 465.85,319.77 466.1,320.02 466.35,320.21 466.6,320.37 466.85,320.49 467.1,320.59 467.35,320.68 467.6,320.74 467.85,320.8 470.6,320.85 470.85,320.8 471.1,320.72 471.35,320.62 471.6,320.49 471.85,320.3 472.1,320.05 472.35,319.68 472.6,319.12 472.85,318.25 473.1,316.81 473.35,314.26 473.6,309.82 473.85,304.08 474,302.5 474.1,303.16 474.35,308.35 474.6,312.95 474.85,315.43 475.1,316.49 475.35,316.55 475.6,315.6 475.85,313.36 476.1,310.71 476.2,310.4 476.35,311.31 476.6,314.46 476.85,316.89 477.1,318.26 477.35,319.02 477.6,319.43 477.85,319.65 478.1,319.72 478.35,319.69 478.6,319.53 478.85,319.24 479.1,318.73 479.35,317.88 479.6,316.4 479.85,313.76 480.1,309.43 480.35,305.42 480.4,305.2 480.6,306.87 480.85,310.71 481.1,312.68 481.35,312.37 481.6,309.97 481.85,307.46 481.9,307.4 482.1,309.16 482.35,312.78 482.6,315.09 482.85,316.04 483.1,315.96 483.35,314.83 483.6,312.2 483.85,307.78 484.1,304.8 484.35,307.88 484.6,312.4 484.85,315.14 485.1,316.4 485.35,316.61 485.6,315.88 485.85,314.53 486,314.2 486.1,314.46 486.35,316.07 486.6,317.42 486.85,318.07 487.1,318.2 487.35,317.91 487.6,317.13 487.85,315.61 488.1,312.74 488.35,307.74 488.6,302.15 488.7,301.4 488.85,302.98 489.1,308.87 489.35,313.39 489.6,315.9 489.85,317.22 490.1,317.89 490.35,318.14 490.6,318.08 490.85,317.69 491.1,316.89 491.35,315.44 491.6,312.82 491.85,308.07 492.1,300.17 492.35,293 492.4,292.7 492.6,296.38 492.85,304.69 493.1,310.18 493.35,312.78 493.6,313.42 493.85,312.58 494.1,310.91 494.3,310.4 494.35,310.55 494.6,312.73 494.85,315.4 495.1,317.32 495.35,318.54 495.6,319.33 495.85,319.85 496.1,320.22 496.35,320.49 496.6,320.69 496.85,320.84 497.1,320.97 497.35,321.06 497.6,321.15 497.85,321.21 498.1,321.27 501.1,321.59 504.1,321.7 507.1,321.74 510.1,321.77 513.1,321.78 516.1,321.78 519.1,321.77 522.1,321.73 524.6,321.53 524.85,321.47 525.1,321.4 525.35,321.29 525.6,321.15 525.85,320.94 526.1,320.64 526.35,320.23 526.6,319.72 526.85,319.29 527,319.2 527.1,319.24 527.35,319.61 527.6,320.12 527.85,320.55 528.1,320.87 528.35,321.08 528.6,321.23 528.85,321.34 529.1,321.41 529.35,321.47 532.35,321.55 533.6,321.41 533.85,321.35 534.1,321.29 534.35,321.21 534.6,321.1 534.85,320.95 535.1,320.76 535.35,320.48 535.6,320.08 535.85,319.48 536.1,318.57 536.35,317.25 536.6,315.62 536.85,314.54 536.9,314.5 537.1,315.03 537.35,316.57 537.6,318.04 537.85,319.08 538.1,319.76 538.35,320.21 538.6,320.5 538.85,320.7 539.1,320.83 539.35,320.91 539.6,320.97 540.85,320.93 541.1,320.87 541.35,320.79 541.6,320.68 541.85,320.54 542.1,320.36 542.35,320.13 542.6,319.82 542.85,319.4 543.1,318.83 543.35,318.02 543.6,316.82 543.85,314.99 544.1,312.07 544.35,307.32 544.6,300.09 544.85,292.34 545,290.5 545.1,291.33 545.35,298.36 545.6,305.99 545.85,311.16 546.1,314.33 546.35,316.29 546.6,317.52 546.85,318.33 547.1,318.85 547.35,319.18 547.6,319.37 547.85,319.42 548.1,319.36 548.35,319.14 548.6,318.73 548.85,318.03 549.1,316.84 549.35,314.85 549.6,311.63 549.85,307.38 550.1,305 550.35,307.47 550.6,311.8 550.85,315.12 551.1,317.2 551.35,318.5 551.6,319.33 551.85,319.89 552.1,320.27 552.35,320.55 552.6,320.76 552.85,320.92 553.1,321.05 553.35,321.15 553.6,321.23 553.85,321.3 554.1,321.36 557.1,321.66 560.1,321.75 563.1,321.79 566.1,321.82 569.1,321.83 572.1,321.84 575.1,321.84 578.1,321.85 581.1,321.85 584.1,321.85 587.1,321.85 590.1,321.85 593.1,321.85 596.1,321.85 599.1,321.85 602.1,321.85 605.1,321.84 608.1,321.84 611.1,321.84 614.1,321.83 617.1,321.82 620.1,321.82 623.1,321.8 626.1,321.79 629.1,321.77 632.1,321.75 635.1,321.72 638.1,321.67 641.1,321.61 644.1,321.5 647.1,321.3 649.1,321.04 649.35,320.99 649.6,320.93 649.85,320.86 650.1,320.79 650.35,320.71 650.6,320.61 650.85,320.48 651.1,320.34 651.35,320.16 651.6,319.92 651.85,319.62 652.1,319.2 652.35,318.61 652.6,317.75 652.85,316.47 653.1,314.67 653.35,312.6 653.6,311.5 653.85,312.36 654.1,314.18 654.35,315.72 654.6,316.72 654.85,317.26 655.1,317.49 655.35,317.48 655.6,317.25 655.85,316.8 656.1,316.11 656.35,315.24 656.6,314.5 656.85,314.13 657.1,313.83 657.35,313.21 657.6,312.1 657.85,310.38 658.1,307.87 658.35,304.24 658.6,298.96 658.85,291.33 659.1,280.81 659.35,268.49 659.6,259.48 659.7,258.5 659.85,260.54 660.1,270.66 660.35,282.71 660.6,292.48 660.85,299.41 661.1,304.15 661.35,307.38 661.6,309.58 661.85,311.08 662.1,312.07 662.35,312.7 662.6,313.02 662.85,313.1 663.1,312.93 663.35,312.53 663.6,311.87 663.85,310.91 664.1,309.57 664.35,307.74 664.6,305.24 664.85,301.83 665.1,297.11 665.35,290.53 665.6,281.38 665.85,269.03 666.1,253.95 666.35,239.7 666.6,233.5 666.85,239.75 667.1,254.04 667.35,269.18 667.6,281.58 667.85,290.79 668.1,297.43 668.35,302.23 668.6,305.72 668.85,308.31 669.1,310.24 669.35,311.71 669.6,312.82 669.85,313.67 670.1,314.29 670.35,314.74 670.6,315.03 670.85,315.17 671.1,315.17 671.35,315.01 671.6,314.67 671.85,314.12 672.1,313.28 672.35,312.06 672.6,310.3 672.85,307.74 673.1,304.02 673.35,298.56 673.6,290.8 673.85,280.84 674.1,271.49 674.3,268.5 674.35,268.72 674.6,275.01 674.85,285.36 675.1,294.74 675.35,301.7 675.6,306.58 675.85,309.97 676.1,312.38 676.35,314.13 676.6,315.43 676.85,316.42 677.1,317.19 677.35,317.8 677.6,318.3 677.85,318.7 678.1,319.03 678.35,319.31 678.6,319.55 678.85,319.75 679.1,319.93 679.35,320.08 679.6,320.21 679.85,320.33 680.1,320.44" fill="none" stroke="#b52c3c" stroke-width="1.75" stroke-linejoin="round"/>
<line x1="12.6" y1="492.8" x2="49.5" y2="492.8" stroke="#6a6a6a" stroke-width="1.2"/>
<line x1="55.5" y1="492.8" x2="636.6" y2="492.8" stroke="#6a6a6a" stroke-width="1.2"/>
<line x1="649" y1="492.8" x2="678.6" y2="492.8" stroke="#6a6a6a" stroke-width="1.2"/>
<line x1="26.6" y1="492.8" x2="26.6" y2="496.3" stroke="#6a6a6a" stroke-width="1.2"/>
<line x1="75.7" y1="492.8" x2="75.7" y2="496.3" stroke="#6a6a6a" stroke-width="1.2"/>
<line x1="96.53" y1="492.8" x2="96.53" y2="495.3" stroke="#6a6a6a" stroke-width="1.2"/>
<line x1="117.35" y1="492.8" x2="117.35" y2="496.3" stroke="#6a6a6a" stroke-width="1.2"/>
<line x1="138.18" y1="492.8" x2="138.18" y2="495.3" stroke="#6a6a6a" stroke-width="1.2"/>
<line x1="159" y1="492.8" x2="159" y2="496.3" stroke="#6a6a6a" stroke-width="1.2"/>
<line x1="179.82" y1="492.8" x2="179.82" y2="495.3" stroke="#6a6a6a" stroke-width="1.2"/>
<line x1="200.65" y1="492.8" x2="200.65" y2="496.3" stroke="#6a6a6a" stroke-width="1.2"/>
<line x1="221.48" y1="492.8" x2="221.48" y2="495.3" stroke="#6a6a6a" stroke-width="1.2"/>
<line x1="242.3" y1="492.8" x2="242.3" y2="496.3" stroke="#6a6a6a" stroke-width="1.2"/>
<line x1="263.12" y1="492.8" x2="263.12" y2="495.3" stroke="#6a6a6a" stroke-width="1.2"/>
<line x1="283.95" y1="492.8" x2="283.95" y2="496.3" stroke="#6a6a6a" stroke-width="1.2"/>
<line x1="304.77" y1="492.8" x2="304.77" y2="495.3" stroke="#6a6a6a" stroke-width="1.2"/>
<line x1="325.6" y1="492.8" x2="325.6" y2="496.3" stroke="#6a6a6a" stroke-width="1.2"/>
<line x1="346.42" y1="492.8" x2="346.42" y2="495.3" stroke="#6a6a6a" stroke-width="1.2"/>
<line x1="367.25" y1="492.8" x2="367.25" y2="496.3" stroke="#6a6a6a" stroke-width="1.2"/>
<line x1="388.07" y1="492.8" x2="388.07" y2="495.3" stroke="#6a6a6a" stroke-width="1.2"/>
<line x1="408.9" y1="492.8" x2="408.9" y2="496.3" stroke="#6a6a6a" stroke-width="1.2"/>
<line x1="429.72" y1="492.8" x2="429.72" y2="495.3" stroke="#6a6a6a" stroke-width="1.2"/>
<line x1="450.55" y1="492.8" x2="450.55" y2="496.3" stroke="#6a6a6a" stroke-width="1.2"/>
<line x1="471.38" y1="492.8" x2="471.38" y2="495.3" stroke="#6a6a6a" stroke-width="1.2"/>
<line x1="492.2" y1="492.8" x2="492.2" y2="496.3" stroke="#6a6a6a" stroke-width="1.2"/>
<line x1="513.02" y1="492.8" x2="513.02" y2="495.3" stroke="#6a6a6a" stroke-width="1.2"/>
<line x1="533.85" y1="492.8" x2="533.85" y2="496.3" stroke="#6a6a6a" stroke-width="1.2"/>
<line x1="554.67" y1="492.8" x2="554.67" y2="495.3" stroke="#6a6a6a" stroke-width="1.2"/>
<line x1="575.5" y1="492.8" x2="575.5" y2="496.3" stroke="#6a6a6a" stroke-width="1.2"/>
<line x1="596.33" y1="492.8" x2="596.33" y2="495.3" stroke="#6a6a6a" stroke-width="1.2"/>
<line x1="617.15" y1="492.8" x2="617.15" y2="496.3" stroke="#6a6a6a" stroke-width="1.2"/>
<line x1="637.98" y1="492.8" x2="637.98" y2="495.3" stroke="#6a6a6a" stroke-width="1.2"/>
<line x1="650.7" y1="492.8" x2="650.7" y2="495.3" stroke="#6a6a6a" stroke-width="1.2"/>
<line x1="673.1" y1="492.8" x2="673.1" y2="496.3" stroke="#6a6a6a" stroke-width="1.2"/>
<text x="27.4" y="513.2" font-size="12.8" fill="#000" text-anchor="middle" stroke="#000" stroke-width="0.22">13.0</text>
<text x="76.5" y="513.2" font-size="12.8" fill="#000" text-anchor="middle" stroke="#000" stroke-width="0.22">12.0</text>
<text x="118.15" y="513.2" font-size="12.8" fill="#000" text-anchor="middle" stroke="#000" stroke-width="0.22">11.5</text>
<text x="159.8" y="513.2" font-size="12.8" fill="#000" text-anchor="middle" stroke="#000" stroke-width="0.22">11.0</text>
<text x="201.45" y="513.2" font-size="12.8" fill="#000" text-anchor="middle" stroke="#000" stroke-width="0.22">10.5</text>
<text x="243.1" y="513.2" font-size="12.8" fill="#000" text-anchor="middle" stroke="#000" stroke-width="0.22">10.0</text>
<text x="284.75" y="513.2" font-size="12.8" fill="#000" text-anchor="middle" stroke="#000" stroke-width="0.22">9.5</text>
<text x="326.4" y="513.2" font-size="12.8" fill="#000" text-anchor="middle" stroke="#000" stroke-width="0.22">9.0</text>
<text x="368.05" y="513.2" font-size="12.8" fill="#000" text-anchor="middle" stroke="#000" stroke-width="0.22">8.5</text>
<text x="409.7" y="513.2" font-size="12.8" fill="#000" text-anchor="middle" stroke="#000" stroke-width="0.22">8.0</text>
<text x="451.35" y="513.2" font-size="12.8" fill="#000" text-anchor="middle" stroke="#000" stroke-width="0.22">7.5</text>
<text x="493" y="513.2" font-size="12.8" fill="#000" text-anchor="middle" stroke="#000" stroke-width="0.22">7.0</text>
<text x="534.65" y="513.2" font-size="12.8" fill="#000" text-anchor="middle" stroke="#000" stroke-width="0.22">6.5</text>
<text x="576.3" y="513.2" font-size="12.8" fill="#000" text-anchor="middle" stroke="#000" stroke-width="0.22">6.0</text>
<text x="617.95" y="513.2" font-size="12.8" fill="#000" text-anchor="middle" stroke="#000" stroke-width="0.22">5.5</text>
<text x="673.9" y="513.2" font-size="12.8" fill="#000" text-anchor="middle" stroke="#000" stroke-width="0.22">3.5</text>
<text x="18.3" y="434.8" font-size="12" fill="#000" font-weight="bold">6-2B</text>
<polyline points="12.6,485.24 15.6,485.21 18.6,485.13 21.6,484.87 21.85,484.82 22.1,484.77 22.35,484.71 22.6,484.64 22.85,484.55 23.1,484.44 23.35,484.32 23.6,484.16 23.85,483.96 24.1,483.72 24.35,483.4 24.6,482.98 24.85,482.41 25.1,481.65 25.35,480.59 25.6,479.12 25.85,477.16 26.1,474.75 26.35,472.49 26.6,471.5 26.85,472.49 27.1,474.75 27.35,477.16 27.6,479.12 27.85,480.59 28.1,481.65 28.35,482.41 28.6,482.98 28.85,483.4 29.1,483.72 29.35,483.96 29.6,484.16 29.85,484.32 30.1,484.44 30.35,484.55 30.6,484.64 30.85,484.71 31.1,484.77 31.35,484.82 34.35,485.12 37.35,485.2 40.35,485.24 43.35,485.26 46.35,485.27 49.35,485.28 51.85,485.28" fill="none" stroke="#3a78b6" stroke-width="1.5" stroke-linejoin="round"/>
<polyline points="59.6,485.3 62.6,485.29 65.85,485.29 68.85,485.29 71.85,485.29 74.85,485.29 77.85,485.29 80.85,485.29 83.85,485.29 86.85,485.29 89.85,485.29 92.85,485.29 95.85,485.29 98.85,485.29 101.85,485.29 104.85,485.28 107.85,485.28 110.85,485.28 113.85,485.27 116.85,485.27 119.85,485.25 122.85,485.23 125.85,485.2 128.85,485.1 131.6,484.81 131.85,484.75 132.1,484.69 132.35,484.61 132.6,484.52 132.85,484.4 133.1,484.26 133.35,484.09 133.6,483.87 133.85,483.58 134.1,483.2 134.35,482.69 134.6,481.99 134.85,481.01 135.1,479.59 135.35,477.55 135.6,474.74 135.85,471.45 136.1,469.05 136.2,468.8 136.35,469.36 136.6,472.1 136.85,475.36 137.1,478.01 137.35,479.91 137.6,481.23 137.85,482.15 138.1,482.81 138.35,483.29 138.6,483.64 138.85,483.91 139.1,484.13 139.35,484.29 139.6,484.43 139.85,484.54 140.1,484.63 140.35,484.7 140.6,484.76 140.85,484.82 143.85,485.11 146.85,485.2 149.85,485.23 152.85,485.25 155.85,485.26 158.85,485.27 161.85,485.27 164.85,485.27 167.85,485.27 170.85,485.27 173.85,485.26 176.85,485.26 179.85,485.25 182.85,485.23 185.85,485.19 188.85,485.1 191.85,484.78 192.1,484.72 192.35,484.65 192.6,484.57 192.85,484.47 193.1,484.35 193.35,484.21 193.6,484.02 193.85,483.79 194.1,483.49 194.35,483.08 194.6,482.54 194.85,481.78 195.1,480.69 195.35,479.07 195.6,476.62 195.85,472.94 196.1,467.96 196.35,463.31 196.5,462.3 196.6,462.76 196.85,466.9 197.1,472.04 197.35,476 197.6,478.66 197.85,480.42 198.1,481.59 198.35,482.41 198.6,482.99 198.85,483.41 199.1,483.73 199.35,483.98 199.6,484.17 199.85,484.33 200.1,484.45 200.35,484.55 200.6,484.64 200.85,484.71 201.1,484.77 201.35,484.82 204.35,485.11 207.35,485.19 210.35,485.23 213.35,485.25 216.35,485.26 219.35,485.26 222.35,485.27 225.35,485.27 228.35,485.27 231.35,485.27 234.35,485.27 237.35,485.27 240.35,485.26 243.35,485.26 246.35,485.26 249.35,485.25 252.35,485.24 255.35,485.22 258.35,485.18 261.35,485.11 264.35,484.91 265.35,484.75 265.6,484.69 265.85,484.63 266.1,484.55 266.35,484.46 266.6,484.35 266.85,484.22 267.1,484.05 267.35,483.85 267.6,483.59 267.85,483.25 268.1,482.8 268.35,482.18 268.6,481.32 268.85,480.07 269.1,478.21 269.35,475.39 269.6,471.2 269.85,465.77 270.1,461.39 270.2,460.9 270.35,461.96 270.6,466.87 270.85,472.14 271.1,476.02 271.35,478.61 271.6,480.31 271.85,481.46 272.1,482.26 272.35,482.82 272.6,483.24 272.85,483.55 273.1,483.79 273.35,483.97 273.6,484.12 273.85,484.23 274.1,484.32 274.35,484.39 274.6,484.45 276.85,484.46 277.1,484.41 277.35,484.34 277.6,484.26 277.85,484.14 278.1,484 278.35,483.81 278.6,483.56 278.85,483.23 279.1,482.79 279.35,482.19 279.6,481.36 279.85,480.21 280.1,478.64 280.35,476.66 280.6,474.66 280.85,473.53 280.9,473.5 281.1,474.05 281.35,475.84 281.6,477.91 281.85,479.67 282.1,480.99 282.35,481.95 282.6,482.64 282.85,483.15 283.1,483.53 283.35,483.82 283.6,484.04 283.85,484.22 284.1,484.36 284.35,484.47 284.6,484.57 284.85,484.64 285.1,484.71 285.35,484.77 288.35,485.07 291.35,485.16 294.35,485.2 297.35,485.21 300.35,485.22 303.35,485.22 306.35,485.22 309.35,485.22 312.35,485.2 315.35,485.18 318.35,485.14 321.35,485.04 324.35,484.78 324.85,484.68 325.1,484.63 325.35,484.56 325.6,484.48 325.85,484.39 326.1,484.29 326.35,484.16 326.6,484 326.85,483.8 327.1,483.56 327.35,483.25 327.6,482.84 327.85,482.31 328.1,481.59 328.35,480.6 328.6,479.19 328.85,477.16 329.1,474.25 329.35,470.33 329.6,466 329.85,463.39 329.9,463.3 330.1,464.59 330.35,468.56 330.6,472.78 330.85,476.1 331.1,478.44 331.35,480.07 331.6,481.2 331.85,482.01 332.1,482.61 332.35,483.05 332.6,483.39 332.85,483.65 333.1,483.86 333.35,484.03 333.6,484.16 333.85,484.27 334.1,484.37 334.35,484.44 334.6,484.51 334.85,484.56 337.85,484.8 340.85,484.71 342.85,484.44 343.1,484.38 343.35,484.32 343.6,484.25 343.85,484.17 344.1,484.08 344.35,483.98 344.6,483.86 344.85,483.72 345.1,483.57 345.35,483.38 345.6,483.16 345.85,482.9 346.1,482.59 346.35,482.21 346.6,481.74 346.85,481.16 347.1,480.43 347.35,479.5 347.6,478.28 347.85,476.65 348.1,474.46 348.35,471.44 348.6,467.26 348.85,461.54 349.1,454.2 349.35,446.29 349.6,440.95 349.7,440.4 349.85,441.61 350.1,447.8 350.35,455.77 350.6,462.82 350.85,468.21 351.1,472.13 351.35,474.97 351.6,477.03 351.85,478.56 352.1,479.72 352.35,480.61 352.6,481.31 352.85,481.87 353.1,482.32 353.35,482.68 353.6,482.99 353.85,483.24 354.1,483.45 354.35,483.64 354.6,483.79 354.85,483.93 355.1,484.04 355.35,484.15 355.6,484.24 355.85,484.32 356.1,484.39 356.35,484.45 356.6,484.51 356.85,484.56 359.85,484.91 362.85,485.05 365.85,485.12 368.85,485.16 371.85,485.19 374.85,485.2 377.85,485.21 380.85,485.22 383.85,485.22 386.85,485.22 389.85,485.22 392.85,485.21 395.85,485.2 398.85,485.18 401.85,485.13 404.85,485.02 407.35,484.74 407.6,484.68 407.85,484.62 408.1,484.54 408.35,484.45 408.6,484.34 408.85,484.2 409.1,484.03 409.35,483.82 409.6,483.54 409.85,483.18 410.1,482.7 410.35,482.03 410.6,481.09 410.85,479.7 411.1,477.62 411.35,474.46 411.6,469.91 411.85,464.72 412.1,462.1 412.35,464.71 412.6,469.91 412.85,474.45 413.1,477.61 413.35,479.69 413.6,481.08 413.85,482.02 414.1,482.68 414.35,483.17 414.6,483.52 414.85,483.8 415.1,484.01 415.35,484.18 415.6,484.31 415.85,484.42 416.1,484.51 416.35,484.58 416.6,484.65 416.85,484.7 419.85,484.97 422.85,484.99 425.85,484.82 426.35,484.73 426.6,484.68 426.85,484.62 427.1,484.53 427.35,484.43 427.6,484.3 427.85,484.13 428.1,483.91 428.35,483.6 428.6,483.17 428.85,482.55 429.1,481.62 429.35,480.22 429.6,478.13 429.85,475.42 430.1,473.24 430.2,473 430.35,473.53 430.6,475.98 430.85,478.6 431.1,480.53 431.35,481.82 431.6,482.67 431.85,483.24 432.1,483.63 432.35,483.91 432.6,484.12 432.85,484.28 433.1,484.39 433.35,484.49 433.6,484.56 433.85,484.61 436.85,484.8 439.85,484.61 440.85,484.45 441.1,484.4 441.35,484.34 441.6,484.27 441.85,484.19 442.1,484.1 442.35,484 442.6,483.88 442.85,483.73 443.1,483.57 443.35,483.37 443.6,483.14 443.85,482.86 444.1,482.51 444.35,482.08 444.6,481.53 444.85,480.84 445.1,479.93 445.35,478.71 445.6,477.06 445.85,474.75 446.1,471.44 446.35,466.68 446.6,459.96 446.85,451.37 447.1,443.31 447.3,440.7 447.35,440.87 447.6,446.17 447.85,454.93 448.1,462.88 448.35,468.76 448.6,472.86 448.85,475.71 449.1,477.72 449.35,479.17 449.6,480.24 449.85,481.04 450.1,481.66 450.35,482.14 450.6,482.52 450.85,482.83 451.1,483.08 451.35,483.28 451.6,483.45 451.85,483.58 452.1,483.7 452.35,483.79 452.6,483.86 452.85,483.92 454.85,483.94 455.1,483.87 455.35,483.78 455.6,483.65 455.85,483.48 456.1,483.26 456.35,482.94 456.6,482.48 456.85,481.82 457.1,480.8 457.35,479.17 457.6,476.56 457.85,472.73 458.1,469.17 458.2,468.7 458.35,469.49 458.6,473.05 458.85,476.28 459.1,478.16 459.35,478.94 459.6,478.79 459.85,477.6 460.1,475.17 460.35,472.68 460.4,472.5 460.6,473.12 460.85,474.54 461.1,474.18 461.35,471.23 461.6,465.23 461.85,459.47 461.9,459.2 462.1,461.95 462.35,468.03 462.6,471.13 462.85,470.63 463.1,466.78 463.35,462.84 463.4,462.8 463.6,465.96 463.85,472.4 464.1,476.86 464.35,479.42 464.6,480.93 464.85,481.86 465.1,482.47 465.35,482.89 465.6,483.18 465.85,483.4 466.1,483.55 466.35,483.67 466.6,483.75 466.85,483.81 468.1,483.8 468.35,483.74 468.6,483.66 468.85,483.54 469.1,483.38 469.35,483.16 469.6,482.86 469.85,482.44 470.1,481.82 470.35,480.86 470.6,479.35 470.85,476.94 471.1,473.59 471.35,471.02 471.4,470.9 471.6,472.02 471.85,475.07 472.1,477.51 472.35,478.88 472.6,479.46 472.85,479.44 473.1,478.88 473.35,477.66 473.6,475.49 473.85,471.99 474.1,467.69 474.3,465.8 474.35,465.8 474.6,468.09 474.85,471.06 475.1,472.48 475.35,472.14 475.6,469.99 475.85,465.52 476.1,457.85 476.35,447.47 476.6,441 476.85,445.19 477.1,452.79 477.35,456.5 477.6,454.86 477.85,448.34 478.1,441.47 478.2,441 478.35,443.99 478.6,454.52 478.85,464.15 479.1,470.52 479.35,474.5 479.6,477.04 479.85,478.73 480.1,479.9 480.35,480.74 480.6,481.34 480.85,481.8 481.1,482.13 481.35,482.39 481.6,482.57 481.85,482.69 482.1,482.76 482.6,482.75 482.85,482.65 483.1,482.48 483.35,482.21 483.6,481.78 483.85,481.12 484.1,480.07 484.35,478.33 484.6,475.28 484.85,469.9 485.1,462.13 485.3,458.5 485.35,458.66 485.6,464.31 485.85,470.29 486.1,472.92 486.35,472.49 486.6,469.31 486.85,466.04 486.9,466 487.1,468.57 487.35,473.81 487.6,477.4 487.85,479.39 488.1,480.46 488.35,480.99 488.6,481.17 488.85,481.05 489.1,480.58 489.35,479.61 489.6,477.8 489.85,474.47 490.1,468.9 490.35,463.83 490.4,463.6 490.6,466.12 490.85,471.84 491.1,475.53 491.35,477.1 491.6,477.14 491.85,475.68 492.1,472.12 492.35,466.11 492.6,462.1 492.85,466.48 493.1,472.91 493.35,477.03 493.6,479.32 493.85,480.61 494.1,481.36 494.35,481.79 494.6,482.01 494.85,482.09 495.1,482.03 495.35,481.85 495.6,481.51 495.85,480.97 496.1,480.14 496.35,478.85 496.6,476.76 496.85,473.2 497.1,466.88 497.35,456.09 497.6,444.06 497.7,442.4 497.85,445.59 498.1,457.75 498.35,466.9 498.6,471.59 498.85,473.37 499.1,472.94 499.35,470.07 499.6,464.21 499.85,458.69 499.9,458.5 500.1,461.71 500.35,468.65 500.6,473.13 500.85,475.04 501.1,475.04 501.35,473.11 501.6,468.61 501.85,462.36 502,460.7 502.1,461.57 502.35,467.78 502.6,473.19 502.85,476.03 503.1,477.07 503.35,476.69 503.6,474.68 503.85,470.48 504.1,465.59 504.2,465 504.35,466.6 504.6,472.27 504.85,476.62 505.1,479.09 505.35,480.45 505.6,481.19 505.85,481.56 506.1,481.65 506.35,481.5 506.6,481.04 506.85,480.12 507.1,478.41 507.35,475.25 507.6,469.97 507.85,465.19 507.9,465 508.1,467.58 508.35,473.35 508.6,477.32 508.85,479.48 509.1,480.62 509.35,481.19 509.6,481.38 509.85,481.27 510.1,480.83 510.35,479.95 510.6,478.33 510.85,475.36 511.1,470.12 511.35,463.3 511.5,461.4 511.6,462.16 511.85,468.22 512.1,473.5 512.35,476.19 512.6,477.03 512.85,476.37 513.1,473.96 513.35,469.13 513.6,463.54 513.7,462.8 513.85,464.41 514.1,470.32 514.35,474.66 514.6,476.7 514.85,477.09 515.1,476.01 515.35,472.98 515.6,467.4 515.85,462.27 515.9,462.1 516.1,465.1 516.35,471.66 516.6,476.15 516.85,478.58 517.1,479.81 517.35,480.3 517.6,480.24 517.85,479.55 518.1,477.95 518.35,474.84 518.6,470.21 518.8,468 518.85,468.08 519.1,471.34 519.35,474.59 519.6,475.45 519.85,473.82 520.1,470.23 520.3,468.7 520.35,468.94 520.6,472.99 520.85,477.33 521.1,480 521.35,481.53 521.6,482.45 521.85,483.04 522.1,483.44 522.35,483.72 522.6,483.93 522.85,484.09 523.1,484.21 523.35,484.3 523.6,484.38 523.85,484.44 524.1,484.5 527.1,484.64 528.35,484.51 528.6,484.45 528.85,484.39 529.1,484.31 529.35,484.22 529.6,484.1 529.85,483.95 530.1,483.76 530.35,483.52 530.6,483.19 530.85,482.76 531.1,482.16 531.35,481.32 531.6,480.09 531.85,478.24 532.1,475.43 532.35,471.31 532.6,466.26 532.85,462.91 532.9,462.8 533.1,464.49 533.35,469.33 533.6,473.97 533.85,477.28 534.1,479.47 534.35,480.92 534.6,481.91 534.85,482.6 535.1,483.1 535.35,483.47 535.6,483.75 535.85,483.96 536.1,484.14 536.35,484.28 536.6,484.39 536.85,484.48 537.1,484.56 537.35,484.63 537.6,484.68 540.6,485 543.6,485.09 546.6,485.14 549.6,485.16 552.6,485.16 555.6,485.17 558.6,485.16 561.6,485.15 564.6,485.12 567.6,485.08 570.6,484.98 573.6,484.73 574.1,484.65 574.35,484.59 574.6,484.54 574.85,484.47 575.1,484.39 575.35,484.3 575.6,484.19 575.85,484.05 576.1,483.89 576.35,483.69 576.6,483.44 576.85,483.13 577.1,482.72 577.35,482.18 577.6,481.46 577.85,480.45 578.1,479.03 578.35,476.98 578.6,474.05 578.85,470.09 579.1,465.73 579.35,463.09 579.4,463 579.6,464.29 579.85,468.29 580.1,472.55 580.35,475.89 580.6,478.25 580.85,479.88 581.1,481.03 581.35,481.84 581.6,482.44 581.85,482.88 582.1,483.22 582.35,483.48 582.6,483.69 582.85,483.85 583.1,483.98 583.35,484.09 583.6,484.18 583.85,484.25 584.1,484.31 587.1,484.51 590.1,484.23 590.35,484.18 590.6,484.13 590.85,484.07 591.1,484.01 591.35,483.94 591.6,483.86 591.85,483.77 592.1,483.68 592.35,483.57 592.6,483.44 592.85,483.31 593.1,483.15 593.35,482.97 593.6,482.77 593.85,482.53 594.1,482.26 594.35,481.94 594.6,481.56 594.85,481.12 595.1,480.58 595.35,479.92 595.6,479.11 595.85,478.1 596.1,476.82 596.35,475.17 596.6,473.02 596.85,470.16 597.1,466.36 597.35,461.37 597.6,455.1 597.85,448.17 598.1,442.44 598.3,440.5 598.35,440.5 598.6,443.25 598.85,448.73 599.1,454.38 599.35,458.79 599.6,461.63 599.85,462.94 600.1,462.79 600.35,461.19 600.6,458.03 600.85,453.32 601.1,447.55 601.35,442.39 601.6,440.5 601.85,443.36 602.1,449.54 602.35,456.44 602.6,462.47 602.85,467.21 603.1,470.8 603.35,473.49 603.6,475.53 603.85,477.1 604.1,478.32 604.35,479.28 604.6,480.06 604.85,480.68 605.1,481.2 605.35,481.64 605.6,482 605.85,482.31 606.1,482.57 606.35,482.8 606.6,483 606.85,483.17 607.1,483.32 607.35,483.45 607.6,483.57 607.85,483.67 608.1,483.77 608.35,483.85 608.6,483.92 608.85,483.99 609.1,484.05 609.35,484.1 612.35,484.38 614.1,484.23 614.35,484.17 614.6,484.11 614.85,484.02 615.1,483.92 615.35,483.79 615.6,483.63 615.85,483.43 616.1,483.17 616.35,482.84 616.6,482.4 616.85,481.81 617.1,480.99 617.35,479.86 617.6,478.23 617.85,475.87 618.1,472.54 618.35,468.29 618.6,464.29 618.8,463 618.85,463.09 619.1,465.73 619.35,470.09 619.6,474.04 619.85,476.97 620.1,479.02 620.35,480.44 620.6,481.45 620.85,482.18 621.1,482.71 621.35,483.12 621.6,483.44 621.85,483.69 622.1,483.89 622.35,484.05 622.6,484.18 622.85,484.29 623.1,484.39 623.35,484.47 623.6,484.54 623.85,484.6 624.1,484.65 627.1,484.97 630.1,485.08 633.1,485.14 636.1,485.18 638.35,485.19" fill="none" stroke="#3a78b6" stroke-width="1.5" stroke-linejoin="round"/>
<polyline points="645.8,485.01 648.8,484.81 650.8,484.52 651.05,484.47 651.3,484.41 651.55,484.34 651.8,484.26 652.05,484.17 652.3,484.08 652.55,483.96 652.8,483.83 653.05,483.68 653.3,483.51 653.55,483.3 653.8,483.05 654.05,482.76 654.3,482.39 654.55,481.94 654.8,481.38 655.05,480.66 655.3,479.71 655.55,478.45 655.8,476.7 656.05,474.22 656.3,470.57 656.55,465 656.8,456.29 657.05,442.93 657.3,425.49 657.55,413.23 657.6,412.8 657.8,419.01 658.05,436.1 658.3,451.42 658.55,461.78 658.8,468.37 659.05,472.62 659.3,475.44 659.55,477.37 659.8,478.73 660.05,479.71 660.3,480.42 660.55,480.94 660.8,481.32 661.05,481.59 661.3,481.76 661.55,481.86 661.8,481.88 662.05,481.82 662.3,481.7 662.55,481.48 662.8,481.16 663.05,480.71 663.3,480.1 663.55,479.25 663.8,478.06 664.05,476.39 664.3,473.95 664.55,470.3 664.8,464.65 665.05,455.78 665.3,442.35 665.55,425.98 665.8,417.3 666.05,426.03 666.3,442.46 666.55,455.95 666.8,464.88 667.05,470.58 667.3,474.3 667.55,476.8 667.8,478.56 668.05,479.82 668.3,480.76 668.55,481.47 668.8,482.03 669.05,482.47 669.3,482.83 669.55,483.12 669.8,483.36 670.05,483.56 670.3,483.73 670.55,483.88 670.8,484 671.05,484.11 671.3,484.21 671.55,484.29 671.8,484.37 672.05,484.43 672.3,484.49 672.55,484.54 675.55,484.91 678.55,485.06" fill="none" stroke="#3a78b6" stroke-width="1.5" stroke-linejoin="round"/>
<line x1="49.8" y1="497.5" x2="55.6" y2="486" stroke="#333" stroke-width="1.1"/>
<line x1="636.3" y1="499.5" x2="642" y2="487.6" stroke="#333" stroke-width="1.1"/>
<line x1="53.4" y1="497.5" x2="59.2" y2="486" stroke="#333" stroke-width="1.1"/>
<line x1="639.9" y1="499.5" x2="645.6" y2="487.6" stroke="#333" stroke-width="1.1"/>
<text x="28" y="468.9" font-size="13.8" fill="#000" font-style="italic" text-anchor="middle" stroke="#000" stroke-width="0.3">a</text>
<text x="138.3" y="466.4" font-size="13.8" fill="#000" font-style="italic" text-anchor="middle" stroke="#000" stroke-width="0.3">a′</text>
<text x="200" y="460.2" font-size="13.8" fill="#000" font-style="italic" text-anchor="middle" stroke="#000" stroke-width="0.3">c′</text>
<text x="271.7" y="458.8" font-size="13.8" fill="#000" font-style="italic" text-anchor="middle" stroke="#000" stroke-width="0.3">c</text>
<text x="282.4" y="468" font-size="13.8" fill="#000" font-style="italic" text-anchor="middle" stroke="#000" stroke-width="0.3">j′</text>
<text x="331.7" y="459.9" font-size="13.8" fill="#000" font-style="italic" text-anchor="middle" stroke="#000" stroke-width="0.3">d′</text>
<text x="413" y="458.9" font-size="13.8" fill="#000" font-style="italic" text-anchor="middle" stroke="#000" stroke-width="0.3">d</text>
<text x="430.5" y="469.3" font-size="13.8" fill="#000" font-style="italic" text-anchor="middle" stroke="#000" stroke-width="0.3">i</text>
<text x="656.7" y="410" font-size="13.8" fill="#000" font-style="italic" text-anchor="middle" stroke="#000" stroke-width="0.3">b</text>
<text x="667.5" y="414.6" font-size="13.8" fill="#000" font-style="italic" text-anchor="middle" stroke="#000" stroke-width="0.3">b′</text>
<circle cx="353.4" cy="449" r="1.3" fill="#000"/>
<circle cx="444.2" cy="448.1" r="1.3" fill="#000"/>
<circle cx="473.5" cy="448.1" r="1.3" fill="#000"/>
<circle cx="595.6" cy="450.2" r="1.3" fill="#000"/>
<line x1="427.8" y1="417.5" x2="645.8" y2="417.5" stroke="#6a6a6a" stroke-width="1.2"/>
<line x1="440.6" y1="417.5" x2="440.6" y2="420.5" stroke="#6a6a6a" stroke-width="1.2"/>
<line x1="459.18" y1="417.5" x2="459.18" y2="420.5" stroke="#6a6a6a" stroke-width="1.2"/>
<line x1="477.76" y1="417.5" x2="477.76" y2="420.5" stroke="#6a6a6a" stroke-width="1.2"/>
<line x1="496.34" y1="417.5" x2="496.34" y2="420.5" stroke="#6a6a6a" stroke-width="1.2"/>
<line x1="514.92" y1="417.5" x2="514.92" y2="420.5" stroke="#6a6a6a" stroke-width="1.2"/>
<line x1="533.5" y1="417.5" x2="533.5" y2="420.5" stroke="#6a6a6a" stroke-width="1.2"/>
<line x1="552.08" y1="417.5" x2="552.08" y2="420.5" stroke="#6a6a6a" stroke-width="1.2"/>
<line x1="570.66" y1="417.5" x2="570.66" y2="420.5" stroke="#6a6a6a" stroke-width="1.2"/>
<line x1="589.24" y1="417.5" x2="589.24" y2="420.5" stroke="#6a6a6a" stroke-width="1.2"/>
<line x1="607.82" y1="417.5" x2="607.82" y2="420.5" stroke="#6a6a6a" stroke-width="1.2"/>
<line x1="626.4" y1="417.5" x2="626.4" y2="420.5" stroke="#6a6a6a" stroke-width="1.2"/>
<line x1="644.98" y1="417.5" x2="644.98" y2="420.5" stroke="#6a6a6a" stroke-width="1.2"/>
<text x="441.4" y="436.2" font-size="12.8" fill="#000" text-anchor="middle" stroke="#000" stroke-width="0.22">7.4</text>
<text x="478.56" y="436.2" font-size="12.8" fill="#000" text-anchor="middle" stroke="#000" stroke-width="0.22">7.3</text>
<text x="515.72" y="436.2" font-size="12.8" fill="#000" text-anchor="middle" stroke="#000" stroke-width="0.22">7.2</text>
<text x="552.88" y="436.2" font-size="12.8" fill="#000" text-anchor="middle" stroke="#000" stroke-width="0.22">7.1</text>
<text x="590.04" y="436.2" font-size="12.8" fill="#000" text-anchor="middle" stroke="#000" stroke-width="0.22">7.0</text>
<text x="627.2" y="436.2" font-size="12.8" fill="#000" text-anchor="middle" stroke="#000" stroke-width="0.22">6.9</text>
<polyline points="427.3,408 430,405 433.4,398 435,396.5 436.5,401 438.8,394.2 440.3,398 442.6,394.2 444.2,400.3 446.5,397.2 448.8,401.8 450.3,398 452.6,402.6 454.3,392 455.7,384.2 457.2,388 458.7,391.9 460.3,389 461.8,386.5 463.3,390.3 464.5,388.5 465.6,387.3 467.2,388 468.5,393 469.5,398.8 472.5,402.6 475.6,406.4 479,407.8 483.2,408 487,407.5 490.9,405.7 492.6,402 494,398 496.3,394.9 497.8,397.2 500.1,394.9 501.8,398 503.2,400.3 505,401.8 507,402.6 508.8,399 510.1,394.9 511.6,389.6 513.1,393.4 514.7,390.3 516.2,396.5 517.4,392 518.5,382.7 519.3,370 520.1,358" fill="none" stroke="#3a78b6" stroke-width="1.5" stroke-linejoin="round"/>
<polyline points="527.3,358 527.8,366 528.6,378 529.5,386 530.4,391 532.5,396.5 535.2,401.5 538.5,404.2 542.8,405.9 546.5,406.4 550.4,406.2 553.5,404.5 556,401.5 558,395 559.5,388 560.8,384.4 562.5,386.5 565.5,393 567.5,393.5 569.7,393.9 571.5,398.5 573.1,403.4 576.5,405.8 580.7,406.6 584.5,405 587.4,402.4 589.5,393 590.7,386 591.7,383.5 592.8,386 594.2,394 595.9,402.4 599.5,404.8 603.5,405.3 606.5,403.5 609.2,398.6 611.1,388.2 612.3,384 613,377.8 614.3,366.4 615.3,374 615.8,379.7 617.2,392 618.7,399.6 619.6,400.5 621,397 622.5,391 624.4,388.2 625.8,390 627.2,391 628.6,386.5 630,383.5 631.5,386 632.9,388.2 634.2,385.5 635.4,383.5 637,387.5 638.6,393 640,398.5 641.4,402.4 643,404.8 644.3,405.9" fill="none" stroke="#3a78b6" stroke-width="1.5" stroke-linejoin="round"/>
<text x="439" y="395.4" font-size="13.8" fill="#000" font-style="italic" text-anchor="middle" stroke="#000" stroke-width="0.3">g</text>
<text x="438" y="373.8" font-size="12.8" fill="#000" font-style="italic" stroke="#000" stroke-width="0.3" textLength="63" lengthAdjust="spacing">f + h′ + g′</text>
<polyline points="455.8,384.5 455.8,376.4 474.2,376.4 474.2,398.2" fill="none" stroke="#333" stroke-width="1" stroke-linejoin="round"/>
<text x="493" y="400" font-size="13.8" fill="#000" font-style="italic" text-anchor="middle" stroke="#000" stroke-width="0.3">i′</text>
<text x="512" y="392.8" font-size="13.8" fill="#000" font-style="italic" text-anchor="middle" stroke="#000" stroke-width="0.3">f′</text>
<text x="533.6" y="376.8" font-size="13.8" fill="#000" font-style="italic" text-anchor="middle" stroke="#000" stroke-width="0.3">e</text>
<line x1="532.2" y1="378.2" x2="532" y2="385.5" stroke="#000" stroke-width="1.1"/>
<polygon points="529.6,384.8 534.4,384.8 531.9,391" fill="#000"/>
<text x="547" y="382.9" font-size="14.5" fill="#000" font-style="italic" stroke="#000" stroke-width="0.3" textLength="31" lengthAdjust="spacing">j + h</text>
<text x="625.5" y="384.9" font-size="13.8" fill="#000" font-style="italic" text-anchor="middle" stroke="#000" stroke-width="0.3">e′</text>
<line x1="13.1" y1="613.3" x2="632.1" y2="613.3" stroke="#6a6a6a" stroke-width="1.2"/>
<line x1="643" y1="613.3" x2="681.4" y2="613.3" stroke="#6a6a6a" stroke-width="1.2"/>
<line x1="25.9" y1="613.3" x2="25.9" y2="616.8" stroke="#6a6a6a" stroke-width="1.2"/>
<line x1="46.65" y1="613.3" x2="46.65" y2="615.8" stroke="#6a6a6a" stroke-width="1.2"/>
<line x1="67.4" y1="613.3" x2="67.4" y2="616.8" stroke="#6a6a6a" stroke-width="1.2"/>
<line x1="88.15" y1="613.3" x2="88.15" y2="615.8" stroke="#6a6a6a" stroke-width="1.2"/>
<line x1="108.9" y1="613.3" x2="108.9" y2="616.8" stroke="#6a6a6a" stroke-width="1.2"/>
<line x1="129.65" y1="613.3" x2="129.65" y2="615.8" stroke="#6a6a6a" stroke-width="1.2"/>
<line x1="150.4" y1="613.3" x2="150.4" y2="616.8" stroke="#6a6a6a" stroke-width="1.2"/>
<line x1="171.15" y1="613.3" x2="171.15" y2="615.8" stroke="#6a6a6a" stroke-width="1.2"/>
<line x1="191.9" y1="613.3" x2="191.9" y2="616.8" stroke="#6a6a6a" stroke-width="1.2"/>
<line x1="212.65" y1="613.3" x2="212.65" y2="615.8" stroke="#6a6a6a" stroke-width="1.2"/>
<line x1="233.4" y1="613.3" x2="233.4" y2="616.8" stroke="#6a6a6a" stroke-width="1.2"/>
<line x1="254.15" y1="613.3" x2="254.15" y2="615.8" stroke="#6a6a6a" stroke-width="1.2"/>
<line x1="274.9" y1="613.3" x2="274.9" y2="616.8" stroke="#6a6a6a" stroke-width="1.2"/>
<line x1="295.65" y1="613.3" x2="295.65" y2="615.8" stroke="#6a6a6a" stroke-width="1.2"/>
<line x1="316.4" y1="613.3" x2="316.4" y2="616.8" stroke="#6a6a6a" stroke-width="1.2"/>
<line x1="337.15" y1="613.3" x2="337.15" y2="615.8" stroke="#6a6a6a" stroke-width="1.2"/>
<line x1="357.9" y1="613.3" x2="357.9" y2="616.8" stroke="#6a6a6a" stroke-width="1.2"/>
<line x1="378.65" y1="613.3" x2="378.65" y2="615.8" stroke="#6a6a6a" stroke-width="1.2"/>
<line x1="399.4" y1="613.3" x2="399.4" y2="616.8" stroke="#6a6a6a" stroke-width="1.2"/>
<line x1="420.15" y1="613.3" x2="420.15" y2="615.8" stroke="#6a6a6a" stroke-width="1.2"/>
<line x1="440.9" y1="613.3" x2="440.9" y2="616.8" stroke="#6a6a6a" stroke-width="1.2"/>
<line x1="461.65" y1="613.3" x2="461.65" y2="615.8" stroke="#6a6a6a" stroke-width="1.2"/>
<line x1="482.4" y1="613.3" x2="482.4" y2="616.8" stroke="#6a6a6a" stroke-width="1.2"/>
<line x1="503.15" y1="613.3" x2="503.15" y2="615.8" stroke="#6a6a6a" stroke-width="1.2"/>
<line x1="523.9" y1="613.3" x2="523.9" y2="616.8" stroke="#6a6a6a" stroke-width="1.2"/>
<line x1="544.65" y1="613.3" x2="544.65" y2="615.8" stroke="#6a6a6a" stroke-width="1.2"/>
<line x1="565.4" y1="613.3" x2="565.4" y2="616.8" stroke="#6a6a6a" stroke-width="1.2"/>
<line x1="586.15" y1="613.3" x2="586.15" y2="615.8" stroke="#6a6a6a" stroke-width="1.2"/>
<line x1="606.9" y1="613.3" x2="606.9" y2="616.8" stroke="#6a6a6a" stroke-width="1.2"/>
<line x1="627.65" y1="613.3" x2="627.65" y2="615.8" stroke="#6a6a6a" stroke-width="1.2"/>
<line x1="644.9" y1="613.3" x2="644.9" y2="615.8" stroke="#6a6a6a" stroke-width="1.2"/>
<line x1="665.5" y1="613.3" x2="665.5" y2="616.8" stroke="#6a6a6a" stroke-width="1.2"/>
<text x="26.7" y="633" font-size="12.8" fill="#000" text-anchor="middle" stroke="#000" stroke-width="0.22">13.0</text>
<text x="68.2" y="633" font-size="12.8" fill="#000" text-anchor="middle" stroke="#000" stroke-width="0.22">12.5</text>
<text x="109.7" y="633" font-size="12.8" fill="#000" text-anchor="middle" stroke="#000" stroke-width="0.22">12.0</text>
<text x="151.2" y="633" font-size="12.8" fill="#000" text-anchor="middle" stroke="#000" stroke-width="0.22">11.5</text>
<text x="192.7" y="633" font-size="12.8" fill="#000" text-anchor="middle" stroke="#000" stroke-width="0.22">11.0</text>
<text x="234.2" y="633" font-size="12.8" fill="#000" text-anchor="middle" stroke="#000" stroke-width="0.22">10.5</text>
<text x="275.7" y="633" font-size="12.8" fill="#000" text-anchor="middle" stroke="#000" stroke-width="0.22">10.0</text>
<text x="317.2" y="633" font-size="12.8" fill="#000" text-anchor="middle" stroke="#000" stroke-width="0.22">9.5</text>
<text x="358.7" y="633" font-size="12.8" fill="#000" text-anchor="middle" stroke="#000" stroke-width="0.22">9.0</text>
<text x="400.2" y="633" font-size="12.8" fill="#000" text-anchor="middle" stroke="#000" stroke-width="0.22">8.5</text>
<text x="441.7" y="633" font-size="12.8" fill="#000" text-anchor="middle" stroke="#000" stroke-width="0.22">8.0</text>
<text x="483.2" y="633" font-size="12.8" fill="#000" text-anchor="middle" stroke="#000" stroke-width="0.22">7.5</text>
<text x="524.7" y="633" font-size="12.8" fill="#000" text-anchor="middle" stroke="#000" stroke-width="0.22">7.0</text>
<text x="566.2" y="633" font-size="12.8" fill="#000" text-anchor="middle" stroke="#000" stroke-width="0.22">6.5</text>
<text x="607.7" y="633" font-size="12.8" fill="#000" text-anchor="middle" stroke="#000" stroke-width="0.22">6.0</text>
<text x="666.3" y="633" font-size="12.8" fill="#000" text-anchor="middle" stroke="#000" stroke-width="0.22">3.0</text>
<text x="18.2" y="567.7" font-size="12.2" fill="#000" font-weight="bold">6-2C</text>
<polyline points="13.1,604.37 16.1,604.37 19.1,604.36 22.1,604.35 25.1,604.34 28.1,604.33 31.1,604.31 34.1,604.28 37.1,604.24 40.1,604.17 43.1,604.05 46.1,603.78 47.35,603.58 47.6,603.53 47.85,603.47 48.1,603.41 48.35,603.34 48.6,603.26 48.85,603.18 49.1,603.09 49.35,602.98 49.6,602.87 49.85,602.74 50.1,602.6 50.35,602.44 50.6,602.26 50.85,602.06 51.1,601.83 51.35,601.57 51.6,601.29 51.85,600.96 52.1,600.6 52.35,600.2 52.6,599.77 52.85,599.29 53.1,598.79 53.35,598.28 53.6,597.78 53.85,597.32 54.1,596.93 54.35,596.65 54.6,596.51 54.85,596.53 55.1,596.7 55.35,597 55.6,597.41 55.85,597.88 56.1,598.39 56.35,598.9 56.6,599.39 56.85,599.86 57.1,600.29 57.35,600.68 57.6,601.03 57.85,601.35 58.1,601.63 58.35,601.88 58.6,602.1 58.85,602.29 59.1,602.47 59.35,602.63 59.6,602.77 59.85,602.89 60.1,603 60.35,603.1 60.6,603.2 60.85,603.28 61.1,603.35 61.35,603.42 61.6,603.48 61.85,603.54 62.1,603.59 65.35,603.99 68.35,604.14 71.35,604.22 74.35,604.27 77.35,604.3 80.35,604.32 83.35,604.34 86.35,604.35 89.35,604.36 92.35,604.36 95.35,604.37 98.35,604.37 101.35,604.37 104.35,604.38 107.35,604.38 110.35,604.38 113.35,604.38 116.35,604.38 119.35,604.38 122.35,604.39 125.35,604.39 128.35,604.39 131.35,604.39 134.35,604.39 137.35,604.39 140.35,604.39 143.35,604.39 146.35,604.39 149.35,604.39 152.35,604.39 155.35,604.39 158.35,604.39 161.35,604.39 164.35,604.39 167.35,604.39 170.35,604.39 173.35,604.39 176.35,604.39 179.35,604.39 182.35,604.39 185.35,604.39 188.35,604.39 191.35,604.39 194.35,604.39 197.35,604.39 200.35,604.39 203.35,604.38 206.35,604.38 209.35,604.38 212.35,604.38 215.35,604.37 218.35,604.37 221.35,604.36 224.35,604.36 227.35,604.34 230.35,604.32 233.35,604.29 236.35,604.23 239.35,604.08 241.35,603.82 241.6,603.77 241.85,603.71 242.1,603.64 242.35,603.57 242.6,603.47 242.85,603.37 243.1,603.24 243.35,603.09 243.6,602.91 243.85,602.69 244.1,602.42 244.35,602.08 244.6,601.65 244.85,601.1 245.1,600.37 245.35,599.4 245.6,598.07 245.85,596.24 246.1,593.7 246.35,590.29 246.6,586.14 246.85,582.21 247.1,580.5 247.35,582.21 247.6,586.14 247.85,590.29 248.1,593.7 248.35,596.24 248.6,598.07 248.85,599.4 249.1,600.37 249.35,601.1 249.6,601.65 249.85,602.08 250.1,602.42 250.35,602.69 250.6,602.91 250.85,603.09 251.1,603.24 251.35,603.37 251.6,603.47 251.85,603.57 252.1,603.64 252.35,603.71 252.6,603.77 252.85,603.82 255.85,604.14 258.85,604.25 261.85,604.3 264.85,604.33 267.85,604.35 270.85,604.36 273.85,604.37 276.85,604.37 279.85,604.37 282.85,604.38 285.85,604.38 288.85,604.38 291.85,604.38 294.85,604.38 297.85,604.38 300.85,604.38 303.85,604.38 306.85,604.38 309.85,604.38 312.85,604.38 315.85,604.38 318.85,604.38 321.85,604.38 324.85,604.38 327.85,604.38 330.85,604.38 333.85,604.38 336.85,604.38 339.85,604.38 342.85,604.38 345.85,604.37 348.85,604.37 351.85,604.37 354.85,604.36 357.85,604.36 360.85,604.35 363.85,604.34 366.85,604.32 369.85,604.3 372.85,604.25 375.85,604.16 378.85,603.91 379.6,603.78 379.85,603.73 380.1,603.67 380.35,603.6 380.6,603.52 380.85,603.43 381.1,603.32 381.35,603.19 381.6,603.04 381.85,602.87 382.1,602.65 382.35,602.39 382.6,602.06 382.85,601.64 383.1,601.12 383.35,600.43 383.6,599.53 383.85,598.31 384.1,596.64 384.35,594.32 384.6,591.14 384.85,586.98 385.1,582.27 385.35,578.62 385.5,577.9 385.6,578.22 385.85,581.38 386.1,586.05 386.35,590.39 386.6,593.76 386.85,596.23 387.1,598.02 387.35,599.31 387.6,600.27 387.85,601 388.1,601.55 388.35,601.98 388.6,602.32 388.85,602.6 389.1,602.82 389.35,603.01 389.6,603.16 389.85,603.3 390.1,603.41 390.35,603.5 390.6,603.58 390.85,603.65 391.1,603.72 391.35,603.77 394.35,604.11 397.35,604.23 400.35,604.28 403.35,604.31 406.35,604.33 409.35,604.34 412.35,604.35 415.35,604.35 418.35,604.35 421.35,604.36 424.35,604.36 427.35,604.36 430.35,604.36 433.35,604.36 436.35,604.36 439.35,604.35 442.35,604.35 445.35,604.35 448.35,604.35 451.35,604.34 454.35,604.34 457.35,604.34 460.35,604.33 463.35,604.32 466.35,604.32 469.35,604.31 472.35,604.3 475.35,604.29 478.35,604.27 481.35,604.25 484.35,604.23 487.35,604.19 490.35,604.15 493.35,604.08 496.35,603.97 499.35,603.76 501.35,603.48 501.6,603.43 501.85,603.37 502.1,603.31 502.35,603.24 502.6,603.16 502.85,603.07 503.1,602.96 503.35,602.84 503.6,602.7 503.85,602.54 504.1,602.35 504.35,602.13 504.6,601.86 504.85,601.53 505.1,601.12 505.35,600.62 505.6,599.98 505.85,599.16 506.1,598.08 506.35,596.65 506.6,594.75 506.85,592.21 507.1,588.94 507.35,585.09 507.6,581.44 507.85,579.47 507.9,579.4 508.1,580.31 508.35,583.42 508.6,587.26 508.85,590.75 509.1,593.51 509.35,595.58 509.6,597.1 509.85,598.23 510.1,599.06 510.35,599.68 510.6,600.15 510.85,600.49 511.1,600.73 511.35,600.91 511.6,601.02 511.85,601.07 512.35,601.03 512.6,600.94 512.85,600.79 513.1,600.58 513.35,600.3 513.6,599.93 513.85,599.44 514.1,598.8 514.35,597.93 514.6,596.73 514.85,595.03 515.1,592.49 515.35,588.47 515.6,581.66 515.85,569.28 516.1,547.28 516.35,523.75 516.4,522.2 516.6,528.34 516.85,540.61 517.1,535.97 517.35,522.79 517.4,522.2 517.6,528.23 517.85,535.78 518.1,526.87 518.3,522.2 518.35,523.9 518.6,547.32 518.85,568.88 519.1,580.97 519.35,587.56 519.6,591.38 519.85,593.73 520.1,595.22 520.35,596.17 520.6,596.75 520.85,597.05 521.1,597.12 521.35,596.98 521.6,596.6 521.85,595.94 522.1,594.92 522.35,593.36 522.6,590.95 522.85,587.07 523.1,580.43 523.35,568.32 523.6,546.78 523.85,523.72 523.9,522.2 524.1,528.18 524.35,540.16 524.6,535.65 524.85,522.78 524.9,522.2 525.1,528.01 525.35,535.39 525.6,526.94 525.8,522.2 525.85,523.65 526.1,544.74 526.35,563.61 526.6,572.86 526.85,575.72 527.1,573.65 527.35,565.58 527.6,548.81 527.85,530.94 527.9,530 528.1,538.41 528.35,555.75 528.6,564.98 528.85,568.15 529.1,568.9 529.35,569.69 529.4,570 529.6,571.88 529.85,575.5 530.1,579.74 530.35,583.81 530.6,587.31 530.85,590.14 531.1,592.38 531.35,594.14 531.6,595.52 531.85,596.61 532.1,597.49 532.35,598.19 532.6,598.75 532.85,599.21 533.1,599.59 533.35,599.9 533.6,600.15 533.85,600.35 534.1,600.51 534.35,600.63 534.6,600.72 534.85,600.78 535.6,600.79 535.85,600.74 536.1,600.66 536.35,600.54 536.6,600.39 536.85,600.19 537.1,599.93 537.35,599.62 537.6,599.22 537.85,598.72 538.1,598.09 538.35,597.28 538.6,596.21 538.85,594.79 539.1,592.85 539.35,590.12 539.6,586.16 539.85,580.26 540.1,571.43 540.35,559.12 540.6,546.09 540.8,541 540.85,541.04 541.1,547.99 541.35,558.61 541.6,565.89 541.85,568.33 542.1,566.16 542.35,560.45 542.6,555.31 542.7,555 542.85,557.14 543.1,565.14 543.35,573.22 543.6,578.67 543.85,581.57 544.1,582.4 544.35,581.41 544.6,578.42 544.85,572.86 545.1,563.73 545.35,550.46 545.6,536.04 545.8,530 545.85,529.87 546.1,536.12 546.35,545.33 546.6,549.37 546.85,546.72 547.1,540.92 547.3,540 547.35,540.86 547.6,550.92 547.85,564.16 548.1,574.8 548.35,582.13 548.6,587.05 548.85,590.38 549.1,592.71 549.35,594.36 549.6,595.56 549.85,596.43 550.1,597.04 550.35,597.46 550.6,597.71 550.85,597.8 551.1,597.74 551.35,597.5 551.6,597.05 551.85,596.34 552.1,595.26 552.35,593.67 552.6,591.32 552.85,587.9 553.1,583.16 553.35,577.47 553.6,572.87 553.7,572 553.85,572 554.1,574.24 554.35,576.41 554.6,576.73 554.85,575.76 555.1,576 555.35,579.25 555.6,584.18 555.85,588.72 556.1,592.15 556.35,594.57 556.6,596.26 556.85,597.45 557.1,598.29 557.35,598.87 557.6,599.27 557.85,599.52 558.1,599.64 558.35,599.63 558.6,599.5 558.85,599.22 559.1,598.76 559.35,598.07 559.6,597.07 559.85,595.62 560.1,593.56 560.35,590.69 560.6,586.97 560.85,582.96 561.1,580.26 561.2,580 561.35,580.66 561.6,583.91 561.85,588.07 562.1,591.76 562.35,594.58 562.6,596.64 562.85,598.13 563.1,599.23 563.35,600.04 563.6,600.66 563.85,601.15 564.1,601.53 564.35,601.83 564.6,602.08 564.85,602.28 565.1,602.45 565.35,602.59 565.6,602.71 565.85,602.81 566.1,602.89 566.35,602.96 566.6,603.03 566.85,603.08 569.85,603.21 570.35,603.14 570.6,603.09 570.85,603.02 571.1,602.94 571.35,602.85 571.6,602.73 571.85,602.58 572.1,602.39 572.35,602.15 572.6,601.86 572.85,601.47 573.1,600.96 573.35,600.28 573.6,599.36 573.85,598.09 574.1,596.33 574.35,593.92 574.6,590.82 574.85,587.48 575.1,585.23 575.2,585 575.35,585.51 575.6,588.13 575.85,591.5 576.1,594.48 576.35,596.76 576.6,598.41 576.85,599.61 577.1,600.48 577.35,601.13 577.6,601.61 577.85,601.99 578.1,602.28 578.35,602.51 578.6,602.7 578.85,602.85 579.1,602.97 579.35,603.07 579.6,603.15 579.85,603.22 580.1,603.27 583.1,603.39 583.85,603.28 584.1,603.23 584.35,603.17 584.6,603.1 584.85,603.02 585.1,602.91 585.35,602.79 585.6,602.65 585.85,602.48 586.1,602.26 586.35,602.01 586.6,601.69 586.85,601.29 587.1,600.79 587.35,600.14 587.6,599.3 587.85,598.18 588.1,596.65 588.35,594.56 588.6,591.66 588.85,587.68 589.1,582.58 589.35,577.09 589.6,573.38 589.7,573 589.85,573.84 590.1,578.15 590.35,583.7 590.6,588.6 590.85,592.35 591.1,595.08 591.35,597.05 591.6,598.49 591.85,599.55 592.1,600.36 592.35,600.98 592.6,601.47 592.85,601.86 593.1,602.17 593.35,602.43 593.6,602.64 593.85,602.82 594.1,602.97 594.35,603.1 594.6,603.21 594.85,603.3 595.1,603.39 595.35,603.46 595.6,603.52 595.85,603.58 596.1,603.63 599.1,603.96 602.1,604.08 605.1,604.13 608.1,604.15 611.1,604.12 614.1,604.02 617.1,603.73 617.35,603.69 617.6,603.64 617.85,603.58 618.1,603.51 618.35,603.44 618.6,603.35 618.85,603.25 619.1,603.13 619.35,602.99 619.6,602.83 619.85,602.63 620.1,602.4 620.35,602.11 620.6,601.76 620.85,601.31 621.1,600.75 621.35,600.03 621.6,599.09 621.85,597.84 622.1,596.17 622.35,593.94 622.6,591 622.85,587.36 623.1,583.53 623.35,580.73 623.5,580.2 623.6,580.44 623.85,582.83 624.1,586.59 624.35,590.32 624.6,593.41 624.85,595.78 625.1,597.56 625.35,598.88 625.6,599.87 625.85,600.64 626.1,601.23 626.35,601.69 626.6,602.06 626.85,602.36 627.1,602.61 627.35,602.81 627.6,602.98 627.85,603.13 628.1,603.25 628.35,603.36 628.6,603.45 628.85,603.53 629.1,603.6 629.35,603.66 629.6,603.71 632.6,604.06 633.85,604.13" fill="none" stroke="#c13bbf" stroke-width="1.5" stroke-linejoin="round"/>
<polyline points="642.1,605.23 645.1,605.2 648.1,605.17 651.1,605.12 654.1,605.04 657.1,604.87 659.85,604.51 660.1,604.46 660.35,604.4 660.6,604.34 660.85,604.27 661.1,604.19 661.35,604.1 661.6,604.01 661.85,603.9 662.1,603.77 662.35,603.63 662.6,603.46 662.85,603.27 663.1,603.05 663.35,602.8 663.6,602.49 663.85,602.13 664.1,601.7 664.35,601.17 664.6,600.52 664.85,599.71 665.1,598.68 665.35,597.36 665.6,595.6 665.85,593.25 666.1,590 666.35,585.42 666.6,578.84 666.85,569.37 667.1,556.34 667.35,541.09 667.6,529.98 667.7,528.8 667.85,531.4 668.1,544.1 668.35,559.22 668.6,571.53 668.85,580.35 669.1,586.47 669.35,590.74 669.6,593.78 669.85,596 670.1,597.65 670.35,598.91 670.6,599.89 670.85,600.66 671.1,601.29 671.35,601.79 671.6,602.21 671.85,602.56 672.1,602.85 672.35,603.1 672.6,603.31 672.85,603.5 673.1,603.66 673.35,603.8 673.6,603.92 673.85,604.03 674.1,604.12 674.35,604.21 674.6,604.29 674.85,604.35 675.1,604.42 675.35,604.47 675.6,604.52 678.6,604.89 681.35,605.04" fill="none" stroke="#c13bbf" stroke-width="1.5" stroke-linejoin="round"/>
<line x1="632.2" y1="618.5" x2="638" y2="607.2" stroke="#333" stroke-width="1.1"/>
<line x1="635.8" y1="618.5" x2="641.6" y2="607.2" stroke="#333" stroke-width="1.1"/>
<text x="57.5" y="590" font-size="13.8" fill="#000" font-style="italic" text-anchor="middle" stroke="#000" stroke-width="0.3">a</text>
<text x="248" y="577.9" font-size="13.8" fill="#000" font-style="italic" text-anchor="middle" stroke="#000" stroke-width="0.3">c</text>
<text x="386.5" y="575.2" font-size="13.8" fill="#000" font-style="italic" text-anchor="middle" stroke="#000" stroke-width="0.3">d</text>
<text x="497.5" y="578" font-size="13.8" fill="#000" font-style="italic" text-anchor="middle" stroke="#000" stroke-width="0.3">i(i′)</text>
<text x="505" y="556.1" font-size="13.8" fill="#000" font-style="italic" text-anchor="middle" stroke="#000" stroke-width="0.3">h</text>
<text x="534.6" y="549.7" font-size="13.8" fill="#000" font-style="italic" text-anchor="middle" stroke="#000" stroke-width="0.3">e</text>
<text x="551" y="535" font-size="13.8" fill="#000" font-style="italic" text-anchor="middle" stroke="#000" stroke-width="0.3">g</text>
<text x="553.5" y="569.8" font-size="13.8" fill="#000" font-style="italic" text-anchor="middle" stroke="#000" stroke-width="0.3">f</text>
<text x="580.2" y="551" font-size="13.8" fill="#000" font-style="italic" text-anchor="middle" stroke="#000" stroke-width="0.3">k/l</text>
<text x="576.5" y="581" font-size="13.8" fill="#000" font-style="italic" text-anchor="middle" stroke="#000" stroke-width="0.3">j</text>
<text x="674.5" y="534.6" font-size="13.8" fill="#000" font-style="italic" text-anchor="middle" stroke="#000" stroke-width="0.3">b</text>
<circle cx="512.9" cy="525" r="1.3" fill="#000"/>
<circle cx="530.8" cy="525" r="1.3" fill="#000"/>
<line x1="632.8" y1="77" x2="631.05" y2="93.04" stroke="#000" stroke-width="1.2"/>
<polygon points="630.4,99 628.57,92.76 633.54,93.31" fill="#000"/>
<line x1="636" y1="70.5" x2="645.6" y2="92.5" stroke="#000" stroke-width="1.2"/>
<polygon points="648,98 643.31,93.5 647.89,91.5" fill="#000"/>
<line x1="645.5" y1="77" x2="639.45" y2="90.52" stroke="#000" stroke-width="1.2"/>
<polygon points="637,96 637.17,89.5 641.73,91.54" fill="#000"/>
<line x1="645.5" y1="77" x2="643.46" y2="91.06" stroke="#000" stroke-width="1.2"/>
<polygon points="642.6,97 640.99,90.7 645.94,91.42" fill="#000"/>
<line x1="508" y1="557.5" x2="514.61" y2="569.61" stroke="#000" stroke-width="1"/>
<polygon points="517,574 512.67,570.66 516.54,568.56" fill="#000"/>
<line x1="533.5" y1="552" x2="531.82" y2="558.18" stroke="#000" stroke-width="1"/>
<polygon points="530.5,563 529.69,557.6 533.94,558.76" fill="#000"/>
<line x1="575.5" y1="553" x2="564.1" y2="571.73" stroke="#000" stroke-width="1"/>
<polygon points="561.5,576 562.22,570.59 565.98,572.87" fill="#000"/>
<line x1="583" y1="553" x2="587.51" y2="563.41" stroke="#000" stroke-width="1"/>
<polygon points="589.5,568 585.49,564.29 589.53,562.54" fill="#000"/>
<line x1="313.8" y1="654.8" x2="300" y2="654.8" stroke="#000" stroke-width="1.3"/>
<polygon points="294,654.8 300,652.2 300,657.4" fill="#000"/>
<text x="316" y="659.3" font-size="15.5" fill="#000" font-family="Liberation Serif">δ</text>
<text x="329.2" y="653" font-size="9" fill="#000">1</text>
<text x="333.6" y="659" font-size="13.6" fill="#000" textLength="55.5" lengthAdjust="spacingAndGlyphs">H (ppm)</text>
<line x1="133.5" y1="50.5" x2="136.5" y2="36.5" stroke="#868686" stroke-width="1" stroke-linecap="round"/>
<line x1="136.5" y1="36.5" x2="150" y2="31.5" stroke="#868686" stroke-width="1" stroke-linecap="round"/>
<line x1="150" y1="31.5" x2="161" y2="41.5" stroke="#868686" stroke-width="1" stroke-linecap="round"/>
<line x1="161" y1="41.5" x2="158.5" y2="55.5" stroke="#868686" stroke-width="1" stroke-linecap="round"/>
<line x1="158.5" y1="55.5" x2="144.5" y2="61.5" stroke="#868686" stroke-width="1" stroke-linecap="round"/>
<line x1="144.5" y1="61.5" x2="133.5" y2="50.5" stroke="#868686" stroke-width="1" stroke-linecap="round"/>
<line x1="136.46" y1="49.08" x2="138.62" y2="39" stroke="#868686" stroke-width="0.8" stroke-linecap="round"/>
<line x1="149.79" y1="34.82" x2="157.71" y2="42.02" stroke="#868686" stroke-width="0.8" stroke-linecap="round"/>
<line x1="155.52" y1="53.95" x2="145.44" y2="58.27" stroke="#868686" stroke-width="0.8" stroke-linecap="round"/>
<line x1="160" y1="42" x2="168" y2="47" stroke="#868686" stroke-width="1" stroke-linecap="round"/>
<line x1="168" y1="47" x2="176" y2="42" stroke="#868686" stroke-width="1" stroke-linecap="round"/>
<line x1="168" y1="47" x2="166" y2="60" stroke="#868686" stroke-width="1" stroke-linecap="round"/>
<line x1="144.5" y1="61.5" x2="137.6" y2="79.7" stroke="#868686" stroke-width="1" stroke-linecap="round"/>
<line x1="137.6" y1="79.7" x2="122.8" y2="87.8" stroke="#868686" stroke-width="1" stroke-linecap="round"/>
<line x1="137.07" y1="82.95" x2="125.82" y2="89.11" stroke="#868686" stroke-width="0.8" stroke-linecap="round"/>
<line x1="137.6" y1="79.7" x2="149" y2="85" stroke="#868686" stroke-width="1" stroke-linecap="round"/>
<text x="148.3" y="90.6" font-size="12.2" fill="#868686">Mes</text>
<line x1="97.8" y1="91.1" x2="108.5" y2="84.5" stroke="#868686" stroke-width="1" stroke-linecap="round"/>
<line x1="100.45" y1="92.52" x2="108.58" y2="87.5" stroke="#868686" stroke-width="0.8" stroke-linecap="round"/>
<line x1="115.5" y1="84.5" x2="122.8" y2="87.8" stroke="#868686" stroke-width="1" stroke-linecap="round"/>
<line x1="122.8" y1="87.8" x2="118.8" y2="101.6" stroke="#868686" stroke-width="1" stroke-linecap="round"/>
<line x1="118.8" y1="101.6" x2="101.8" y2="102.9" stroke="#868686" stroke-width="1" stroke-linecap="round"/>
<line x1="116.56" y1="99.16" x2="103.64" y2="100.15" stroke="#868686" stroke-width="0.8" stroke-linecap="round"/>
<line x1="101.8" y1="102.9" x2="97.8" y2="91.1" stroke="#868686" stroke-width="1" stroke-linecap="round"/>
<text x="106.4" y="86" font-size="12.2" fill="#868686">N</text>
<line x1="82" y1="89.1" x2="97.8" y2="91.1" stroke="#868686" stroke-width="1" stroke-linecap="round"/>
<text x="158.8" y="21.7" font-size="12.2" fill="#868686">N</text>
<text x="159.5" y="12.8" font-size="12.2" fill="#868686">H</text>
<line x1="167.5" y1="18.5" x2="176.4" y2="21" stroke="#868686" stroke-width="1" stroke-linecap="round"/>
<line x1="176.4" y1="21" x2="188.6" y2="11.2" stroke="#868686" stroke-width="1" stroke-linecap="round"/>
<line x1="188.6" y1="11.2" x2="204.2" y2="16.9" stroke="#868686" stroke-width="1" stroke-linecap="round"/>
<line x1="204.2" y1="16.9" x2="207.3" y2="33.2" stroke="#868686" stroke-width="1" stroke-linecap="round"/>
<line x1="207.3" y1="33.2" x2="195.2" y2="43.6" stroke="#868686" stroke-width="1" stroke-linecap="round"/>
<line x1="195.2" y1="43.6" x2="179.3" y2="38.1" stroke="#868686" stroke-width="1" stroke-linecap="round"/>
<line x1="179.3" y1="38.1" x2="176.4" y2="21" stroke="#868686" stroke-width="1" stroke-linecap="round"/>
<line x1="189.89" y1="14.44" x2="201.12" y2="18.54" stroke="#868686" stroke-width="0.9" stroke-linecap="round"/>
<line x1="203.91" y1="32.68" x2="195.2" y2="40.17" stroke="#868686" stroke-width="0.9" stroke-linecap="round"/>
<line x1="181.46" y1="35.27" x2="179.37" y2="22.96" stroke="#868686" stroke-width="0.9" stroke-linecap="round"/>
<line x1="207.3" y1="33.2" x2="225" y2="38" stroke="#868686" stroke-width="1" stroke-linecap="round"/>
<line x1="225" y1="38" x2="231.5" y2="31.5" stroke="#868686" stroke-width="1" stroke-linecap="round"/>
<text x="232.3" y="31.6" font-size="12.2" fill="#868686">Mes</text>
<line x1="225" y1="38" x2="230.7" y2="53.1" stroke="#868686" stroke-width="1" stroke-linecap="round"/>
<line x1="222.85" y1="39.67" x2="227.98" y2="53.26" stroke="#868686" stroke-width="0.9" stroke-linecap="round"/>
<line x1="230.7" y1="53.1" x2="248" y2="60.3" stroke="#868686" stroke-width="1" stroke-linecap="round"/>
<line x1="248" y1="60.3" x2="249" y2="71.5" stroke="#868686" stroke-width="1" stroke-linecap="round"/>
<line x1="245.53" y1="61.88" x2="246.29" y2="70.39" stroke="#868686" stroke-width="0.9" stroke-linecap="round"/>
<line x1="249" y1="71.5" x2="233.7" y2="76.6" stroke="#868686" stroke-width="1" stroke-linecap="round"/>
<line x1="233.7" y1="76.6" x2="227.5" y2="67" stroke="#868686" stroke-width="1" stroke-linecap="round"/>
<line x1="230.7" y1="53.1" x2="227.5" y2="60.5" stroke="#868686" stroke-width="1" stroke-linecap="round"/>
<text x="209.9" y="69" font-size="12.2" fill="#868686">HN</text>
<line x1="233.7" y1="76.6" x2="229.6" y2="89.9" stroke="#868686" stroke-width="1" stroke-linecap="round"/>
<line x1="231.01" y1="76.5" x2="227.32" y2="88.47" stroke="#868686" stroke-width="0.9" stroke-linecap="round"/>
<line x1="229.6" y1="89.9" x2="239.5" y2="95.5" stroke="#868686" stroke-width="1" stroke-linecap="round"/>
<text x="239.3" y="102.6" font-size="12.4" fill="#868686">C<tspan font-size="8.8" dy="2.1">6</tspan><tspan dy="-2.1">F</tspan><tspan font-size="8.8" dy="2.1">5</tspan></text>
<line x1="103.9" y1="33.5" x2="107.2" y2="16.4" stroke="#000" stroke-width="2.6" stroke-linecap="round"/>
<line x1="107.2" y1="16.4" x2="122.3" y2="11.2" stroke="#000" stroke-width="2.6" stroke-linecap="round"/>
<line x1="122.3" y1="11.2" x2="134.8" y2="21" stroke="#000" stroke-width="2.6" stroke-linecap="round"/>
<line x1="134.8" y1="21" x2="132" y2="39.3" stroke="#000" stroke-width="2.6" stroke-linecap="round"/>
<line x1="132" y1="39.3" x2="116.4" y2="43.4" stroke="#000" stroke-width="2.6" stroke-linecap="round"/>
<line x1="116.4" y1="43.4" x2="103.9" y2="33.5" stroke="#000" stroke-width="2.6" stroke-linecap="round"/>
<line x1="107.31" y1="31.67" x2="109.68" y2="19.36" stroke="#000" stroke-width="1" stroke-linecap="round"/>
<line x1="122.2" y1="14.93" x2="131.2" y2="21.99" stroke="#000" stroke-width="1" stroke-linecap="round"/>
<line x1="129.05" y1="36.97" x2="117.82" y2="39.92" stroke="#000" stroke-width="1" stroke-linecap="round"/>
<text x="144.3" y="22.3" font-size="12.2" fill="#000">N</text>
<text x="144.6" y="12.5" font-size="12.2" fill="#000">H</text>
<line x1="134.8" y1="21" x2="143.5" y2="18.5" stroke="#000" stroke-width="2.6" stroke-linecap="round"/>
<line x1="151.5" y1="22.5" x2="158" y2="33.6" stroke="#000" stroke-width="2.6" stroke-linecap="round"/>
<line x1="158" y1="33.6" x2="175" y2="37" stroke="#000" stroke-width="2.6" stroke-linecap="round"/>
<line x1="175" y1="37" x2="179.7" y2="54.6" stroke="#000" stroke-width="2.6" stroke-linecap="round"/>
<line x1="179.7" y1="54.6" x2="168.2" y2="66.8" stroke="#000" stroke-width="2.6" stroke-linecap="round"/>
<line x1="168.2" y1="66.8" x2="152.6" y2="64.1" stroke="#000" stroke-width="2.6" stroke-linecap="round"/>
<line x1="152.6" y1="64.1" x2="147.8" y2="45.8" stroke="#000" stroke-width="2.6" stroke-linecap="round"/>
<line x1="147.8" y1="45.8" x2="158" y2="33.6" stroke="#000" stroke-width="2.6" stroke-linecap="round"/>
<line x1="172.76" y1="40.24" x2="176.14" y2="52.91" stroke="#000" stroke-width="1" stroke-linecap="round"/>
<line x1="166.53" y1="63.47" x2="155.3" y2="61.52" stroke="#000" stroke-width="1" stroke-linecap="round"/>
<line x1="151.53" y1="46.02" x2="158.87" y2="37.23" stroke="#000" stroke-width="1" stroke-linecap="round"/>
<line x1="147.8" y1="45.8" x2="132" y2="39.3" stroke="#000" stroke-width="2.6" stroke-linecap="round"/>
<line x1="86.2" y1="38.5" x2="103.9" y2="33.5" stroke="#000" stroke-width="2.6" stroke-linecap="round"/>
<line x1="86.2" y1="38.5" x2="79.8" y2="31.8" stroke="#000" stroke-width="1" stroke-linecap="round"/>
<text x="55" y="32.1" font-size="12.2" fill="#000">Mes</text>
<line x1="86.2" y1="38.5" x2="80.1" y2="53" stroke="#000" stroke-width="2.6" stroke-linecap="round"/>
<line x1="88.23" y1="41.4" x2="83.6" y2="52.42" stroke="#000" stroke-width="1" stroke-linecap="round"/>
<line x1="80.1" y1="53" x2="63" y2="58.2" stroke="#000" stroke-width="2.6" stroke-linecap="round"/>
<line x1="63" y1="58.2" x2="61.7" y2="71.8" stroke="#000" stroke-width="2.6" stroke-linecap="round"/>
<line x1="65.83" y1="60.12" x2="64.84" y2="70.45" stroke="#000" stroke-width="1" stroke-linecap="round"/>
<line x1="61.7" y1="71.8" x2="78.8" y2="75.3" stroke="#000" stroke-width="2.6" stroke-linecap="round"/>
<line x1="78.8" y1="75.3" x2="84.5" y2="67.5" stroke="#000" stroke-width="1.5" stroke-linecap="round"/>
<line x1="80.1" y1="53" x2="84.5" y2="59.5" stroke="#000" stroke-width="1.5" stroke-linecap="round"/>
<text x="84.4" y="68.1" font-size="12.2" fill="#000">NH</text>
<line x1="78.8" y1="75.3" x2="82" y2="89.1" stroke="#000" stroke-width="2.3" stroke-linecap="round"/>
<line x1="76.26" y1="77.63" x2="78.69" y2="88.12" stroke="#000" stroke-width="1" stroke-linecap="round"/>
<line x1="82" y1="89.1" x2="73.2" y2="97.5" stroke="#000" stroke-width="1" stroke-linecap="round"/>
<text x="46.7" y="105.2" font-size="12.4" fill="#000">C<tspan font-size="8.8" dy="2.1">6</tspan><tspan dy="-2.1">F</tspan><tspan font-size="8.8" dy="2.1">5</tspan></text>
<line x1="168.2" y1="66.8" x2="172.3" y2="83.1" stroke="#000" stroke-width="2.6" stroke-linecap="round"/>
<line x1="172.3" y1="83.1" x2="164.5" y2="89.5" stroke="#000" stroke-width="1" stroke-linecap="round"/>
<text x="142.2" y="97.4" font-size="12.2" fill="#000">Mes</text>
<line x1="172.3" y1="83.1" x2="189.2" y2="87.9" stroke="#000" stroke-width="2.6" stroke-linecap="round"/>
<line x1="175.15" y1="80.79" x2="187.99" y2="84.44" stroke="#000" stroke-width="1" stroke-linecap="round"/>
<line x1="189.2" y1="87.9" x2="197.5" y2="84.5" stroke="#000" stroke-width="1.4" stroke-linecap="round"/>
<line x1="191.18" y1="89.9" x2="197.49" y2="87.31" stroke="#000" stroke-width="0.9" stroke-linecap="round"/>
<text x="197.6" y="86.5" font-size="12.2" fill="#000">N</text>
<line x1="205.5" y1="84.5" x2="214.3" y2="93" stroke="#000" stroke-width="1.4" stroke-linecap="round"/>
<line x1="204.89" y1="87.25" x2="211.58" y2="93.71" stroke="#000" stroke-width="1" stroke-linecap="round"/>
<line x1="189.2" y1="87.9" x2="192.6" y2="101.4" stroke="#000" stroke-width="2.6" stroke-linecap="round"/>
<line x1="192.6" y1="101.4" x2="210.2" y2="104.2" stroke="#000" stroke-width="2.6" stroke-linecap="round"/>
<line x1="195.18" y1="98.77" x2="208.56" y2="100.9" stroke="#000" stroke-width="1" stroke-linecap="round"/>
<line x1="210.2" y1="104.2" x2="214.3" y2="93" stroke="#000" stroke-width="2.6" stroke-linecap="round"/>
<line x1="214.3" y1="93" x2="229.6" y2="89.9" stroke="#000" stroke-width="2.6" stroke-linecap="round"/>
<text x="101.2" y="15.8" font-size="11.8" fill="#1414ff" font-style="italic" stroke="#1414ff" stroke-width="0.15">h</text>
<text x="118.8" y="8" font-size="11.8" fill="#1414ff" font-style="italic" stroke="#1414ff" stroke-width="0.15">g</text>
<text x="138.6" y="9.2" font-size="11.8" fill="#1414ff" font-style="italic" stroke="#1414ff" stroke-width="0.15">b</text>
<text x="114" y="53.1" font-size="11.8" fill="#1414ff" font-style="italic" stroke="#1414ff" stroke-width="0.15">c</text>
<text x="102.8" y="64.2" font-size="11.8" fill="#1414ff" font-style="italic" stroke="#1414ff" stroke-width="0.15">a</text>
<text x="42.4" y="68.8" font-size="11.8" fill="#1414ff" font-style="italic" stroke="#1414ff" stroke-width="0.15">i + j</text>
<text x="104.2" y="114.1" font-size="11.8" fill="#1414ff" font-style="italic" stroke="#1414ff" stroke-width="0.15">k + l</text>
<text x="172.6" y="33.5" font-size="11.8" fill="#1414ff" font-style="italic" stroke="#1414ff" stroke-width="0.15">f</text>
<text x="182.6" y="57.8" font-size="11.8" fill="#1414ff" font-style="italic" stroke="#1414ff" stroke-width="0.15">e</text>
<text x="144.2" y="75" font-size="11.8" fill="#1414ff" font-style="italic" stroke="#1414ff" stroke-width="0.15">d</text>
<line x1="165.8" y1="194" x2="167.4" y2="177.4" stroke="#8a8a8a" stroke-width="1" stroke-linecap="round"/>
<line x1="167.4" y1="177.4" x2="180.7" y2="172.4" stroke="#8a8a8a" stroke-width="1" stroke-linecap="round"/>
<line x1="180.7" y1="172.4" x2="194.8" y2="180.7" stroke="#8a8a8a" stroke-width="1" stroke-linecap="round"/>
<line x1="194.8" y1="180.7" x2="192.3" y2="195.7" stroke="#8a8a8a" stroke-width="1" stroke-linecap="round"/>
<line x1="192.3" y1="195.7" x2="177.4" y2="200.6" stroke="#8a8a8a" stroke-width="1" stroke-linecap="round"/>
<line x1="177.4" y1="200.6" x2="165.8" y2="194" stroke="#8a8a8a" stroke-width="1" stroke-linecap="round"/>
<line x1="170.18" y1="179.13" x2="179.75" y2="175.53" stroke="#8a8a8a" stroke-width="0.8" stroke-linecap="round"/>
<line x1="191.89" y1="182.37" x2="190.09" y2="193.17" stroke="#8a8a8a" stroke-width="0.8" stroke-linecap="round"/>
<line x1="177.06" y1="197.42" x2="168.71" y2="192.66" stroke="#8a8a8a" stroke-width="0.8" stroke-linecap="round"/>
<line x1="218.9" y1="190.7" x2="235.4" y2="192.4" stroke="#8a8a8a" stroke-width="1" stroke-linecap="round"/>
<line x1="235.4" y1="192.4" x2="239.6" y2="205.6" stroke="#8a8a8a" stroke-width="1" stroke-linecap="round"/>
<line x1="239.6" y1="205.6" x2="229.6" y2="218.1" stroke="#8a8a8a" stroke-width="1" stroke-linecap="round"/>
<line x1="229.6" y1="218.1" x2="213" y2="214.8" stroke="#8a8a8a" stroke-width="1" stroke-linecap="round"/>
<line x1="213" y1="214.8" x2="208.9" y2="202.3" stroke="#8a8a8a" stroke-width="1" stroke-linecap="round"/>
<line x1="208.9" y1="202.3" x2="218.9" y2="190.7" stroke="#8a8a8a" stroke-width="1" stroke-linecap="round"/>
<line x1="233.51" y1="195.04" x2="236.53" y2="204.54" stroke="#8a8a8a" stroke-width="0.8" stroke-linecap="round"/>
<line x1="227.78" y1="215.09" x2="215.83" y2="212.71" stroke="#8a8a8a" stroke-width="0.8" stroke-linecap="round"/>
<line x1="212.27" y1="202.37" x2="219.47" y2="194.02" stroke="#8a8a8a" stroke-width="0.8" stroke-linecap="round"/>
<line x1="192.3" y1="195.7" x2="208.9" y2="202.3" stroke="#8a8a8a" stroke-width="1" stroke-linecap="round"/>
<line x1="194.8" y1="180.7" x2="205.8" y2="178.5" stroke="#8a8a8a" stroke-width="1" stroke-linecap="round"/>
<line x1="213.5" y1="180.5" x2="218.9" y2="190.7" stroke="#8a8a8a" stroke-width="1" stroke-linecap="round"/>
<text x="205.6" y="181.6" font-size="12.2" fill="#8a8a8a">N</text>
<line x1="214.7" y1="170.8" x2="220.5" y2="164.1" stroke="#8a8a8a" stroke-width="1" stroke-linecap="round"/>
<line x1="229.6" y1="218.1" x2="236.3" y2="234.7" stroke="#8a8a8a" stroke-width="1" stroke-linecap="round"/>
<line x1="236.3" y1="234.7" x2="245.4" y2="236.3" stroke="#8a8a8a" stroke-width="1" stroke-linecap="round"/>
<text x="246.8" y="243" font-size="12.2" fill="#8a8a8a">Mes</text>
<line x1="165.8" y1="194" x2="149.9" y2="199.5" stroke="#8a8a8a" stroke-width="1" stroke-linecap="round"/>
<line x1="149.9" y1="199.5" x2="145.2" y2="194.2" stroke="#8a8a8a" stroke-width="1" stroke-linecap="round"/>
<text x="121" y="193.6" font-size="12.2" fill="#8a8a8a">Mes</text>
<line x1="149.9" y1="199.5" x2="146.4" y2="216.4" stroke="#8a8a8a" stroke-width="1" stroke-linecap="round"/>
<line x1="146.93" y1="201" x2="144.27" y2="213.84" stroke="#8a8a8a" stroke-width="0.8" stroke-linecap="round"/>
<line x1="146.4" y1="216.4" x2="157" y2="226.4" stroke="#8a8a8a" stroke-width="1" stroke-linecap="round"/>
<line x1="157" y1="226.4" x2="152" y2="238.5" stroke="#8a8a8a" stroke-width="1" stroke-linecap="round"/>
<line x1="148" y1="240" x2="131.5" y2="238.7" stroke="#8a8a8a" stroke-width="1" stroke-linecap="round"/>
<line x1="131.5" y1="238.7" x2="129.5" y2="230.5" stroke="#8a8a8a" stroke-width="1" stroke-linecap="round"/>
<line x1="146.4" y1="216.4" x2="136" y2="221.5" stroke="#8a8a8a" stroke-width="1" stroke-linecap="round"/>
<text x="118.4" y="229.1" font-size="12.2" fill="#8a8a8a">HN</text>
<line x1="131.5" y1="238.7" x2="121" y2="249.2" stroke="#8a8a8a" stroke-width="1" stroke-linecap="round"/>
<line x1="132.08" y1="241.8" x2="124.1" y2="249.78" stroke="#8a8a8a" stroke-width="0.8" stroke-linecap="round"/>
<line x1="121" y1="249.2" x2="103.8" y2="245.7" stroke="#8a8a8a" stroke-width="1" stroke-linecap="round"/>
<line x1="121" y1="249.2" x2="121" y2="258.8" stroke="#8a8a8a" stroke-width="1" stroke-linecap="round"/>
<text x="117.9" y="269.4" font-size="12.4" fill="#8a8a8a">C<tspan font-size="8.8" dy="2.1">6</tspan><tspan dy="-2.1">F</tspan><tspan font-size="8.8" dy="2.1">5</tspan></text>
<line x1="86" y1="232.4" x2="96.8" y2="233" stroke="#8a8a8a" stroke-width="1" stroke-linecap="round"/>
<text x="97.4" y="237.4" font-size="12.2" fill="#8a8a8a">N</text>
<line x1="103" y1="238.8" x2="103.8" y2="245.7" stroke="#8a8a8a" stroke-width="1" stroke-linecap="round"/>
<line x1="100.91" y1="239.88" x2="101.52" y2="245.13" stroke="#8a8a8a" stroke-width="0.9" stroke-linecap="round"/>
<line x1="103.8" y1="245.7" x2="89.5" y2="253.3" stroke="#8a8a8a" stroke-width="1" stroke-linecap="round"/>
<line x1="89.5" y1="253.3" x2="77.8" y2="245.1" stroke="#8a8a8a" stroke-width="1" stroke-linecap="round"/>
<line x1="89.59" y1="250.19" x2="80.7" y2="243.95" stroke="#8a8a8a" stroke-width="0.9" stroke-linecap="round"/>
<line x1="77.8" y1="245.1" x2="86" y2="232.4" stroke="#8a8a8a" stroke-width="1" stroke-linecap="round"/>
<line x1="76.6" y1="221.1" x2="86" y2="232.4" stroke="#8a8a8a" stroke-width="1" stroke-linecap="round"/>
<line x1="75.07" y1="223.33" x2="83.53" y2="233.5" stroke="#8a8a8a" stroke-width="0.9" stroke-linecap="round"/>
<line x1="93.1" y1="175.8" x2="97" y2="181" stroke="#1b4c8a" stroke-width="2.6" stroke-linecap="round"/>
<text x="96.2" y="192.2" font-size="12.2" fill="#1b4c8a">N</text>
<line x1="94.4" y1="194.2" x2="80.6" y2="189.6" stroke="#1b4c8a" stroke-width="2.6" stroke-linecap="round"/>
<line x1="80.6" y1="189.6" x2="75.3" y2="198.1" stroke="#1b4c8a" stroke-width="2.6" stroke-linecap="round"/>
<line x1="75.3" y1="198.1" x2="83.9" y2="212.6" stroke="#1b4c8a" stroke-width="2.6" stroke-linecap="round"/>
<line x1="83.9" y1="212.6" x2="97.7" y2="215.2" stroke="#1b4c8a" stroke-width="1.3" stroke-linecap="round"/>
<line x1="97.7" y1="215.2" x2="102" y2="207.3" stroke="#1b4c8a" stroke-width="1.3" stroke-linecap="round"/>
<line x1="102" y1="207.3" x2="94.4" y2="194.2" stroke="#1b4c8a" stroke-width="1.3" stroke-linecap="round"/>
<line x1="82.23" y1="192.27" x2="78.42" y2="198.39" stroke="#1b4c8a" stroke-width="0.9" stroke-linecap="round"/>
<line x1="86.35" y1="210.21" x2="96.29" y2="212.08" stroke="#1b4c8a" stroke-width="0.9" stroke-linecap="round"/>
<line x1="98.51" y1="206.87" x2="93.04" y2="197.44" stroke="#1b4c8a" stroke-width="0.9" stroke-linecap="round"/>
<line x1="94.4" y1="194.2" x2="97.5" y2="191.5" stroke="#1b4c8a" stroke-width="1.3" stroke-linecap="round"/>
<line x1="83.9" y1="212.6" x2="76.6" y2="221.1" stroke="#1b4c8a" stroke-width="2.6" stroke-linecap="round"/>
<line x1="76.6" y1="221.1" x2="64.2" y2="221.1" stroke="#1b4c8a" stroke-width="1.2" stroke-linecap="round"/>
<text x="40.3" y="225.7" font-size="12.2" fill="#1b4c8a">Mes</text>
<line x1="104.5" y1="189.5" x2="113.1" y2="197.1" stroke="#1b4c8a" stroke-width="2.6" stroke-linecap="round"/>
<line x1="102" y1="207.3" x2="114.3" y2="208.8" stroke="#1b4c8a" stroke-width="1.3" stroke-linecap="round"/>
<line x1="113.1" y1="197.1" x2="121.3" y2="196.5" stroke="#1b4c8a" stroke-width="1.3" stroke-linecap="round"/>
<line x1="121.3" y1="196.5" x2="134.1" y2="208.8" stroke="#1b4c8a" stroke-width="2.6" stroke-linecap="round"/>
<line x1="134.1" y1="208.8" x2="135.9" y2="218.7" stroke="#1b4c8a" stroke-width="2.6" stroke-linecap="round"/>
<line x1="135.9" y1="218.7" x2="126.5" y2="219.3" stroke="#1b4c8a" stroke-width="1.3" stroke-linecap="round"/>
<line x1="126.5" y1="219.3" x2="114.3" y2="208.8" stroke="#1b4c8a" stroke-width="1.3" stroke-linecap="round"/>
<line x1="114.3" y1="208.8" x2="113.1" y2="197.1" stroke="#1b4c8a" stroke-width="1.3" stroke-linecap="round"/>
<line x1="121.29" y1="200.1" x2="130.51" y2="208.95" stroke="#1b4c8a" stroke-width="0.9" stroke-linecap="round"/>
<line x1="134.42" y1="216.19" x2="127.65" y2="216.62" stroke="#1b4c8a" stroke-width="0.9" stroke-linecap="round"/>
<line x1="116.72" y1="206.9" x2="115.85" y2="198.47" stroke="#1b4c8a" stroke-width="0.9" stroke-linecap="round"/>
<line x1="135.9" y1="218.7" x2="149.1" y2="231.8" stroke="#1b4c8a" stroke-width="2.6" stroke-linecap="round"/>
<line x1="149.1" y1="231.8" x2="161.1" y2="234" stroke="#1b4c8a" stroke-width="2.6" stroke-linecap="round"/>
<line x1="151.04" y1="229.31" x2="160.16" y2="230.98" stroke="#1b4c8a" stroke-width="1" stroke-linecap="round"/>
<line x1="149.1" y1="231.8" x2="148" y2="243.3" stroke="#1b4c8a" stroke-width="1.2" stroke-linecap="round"/>
<text x="128.1" y="251.5" font-size="12.2" fill="#1b4c8a">Mes</text>
<line x1="161.1" y1="234" x2="168.5" y2="242.5" stroke="#1b4c8a" stroke-width="2.6" stroke-linecap="round"/>
<text x="168.6" y="250.4" font-size="12.2" fill="#1b4c8a">N</text>
<text x="168.6" y="260.8" font-size="12.2" fill="#1b4c8a">H</text>
<line x1="161.1" y1="234" x2="166.1" y2="225.3" stroke="#1b4c8a" stroke-width="1.3" stroke-linecap="round"/>
<line x1="166.1" y1="225.3" x2="181.4" y2="231.3" stroke="#1b4c8a" stroke-width="1.3" stroke-linecap="round"/>
<line x1="168.89" y1="223.6" x2="180.51" y2="228.16" stroke="#1b4c8a" stroke-width="0.9" stroke-linecap="round"/>
<line x1="181.4" y1="231.3" x2="184.7" y2="244.4" stroke="#1b4c8a" stroke-width="1.3" stroke-linecap="round"/>
<line x1="177.5" y1="245.5" x2="184.7" y2="244.4" stroke="#1b4c8a" stroke-width="2.6" stroke-linecap="round"/>
<line x1="184.7" y1="244.4" x2="197.8" y2="254.6" stroke="#1b4c8a" stroke-width="2.6" stroke-linecap="round"/>
<line x1="184.55" y1="247.83" x2="194.51" y2="255.59" stroke="#1b4c8a" stroke-width="1" stroke-linecap="round"/>
<line x1="197.8" y1="254.6" x2="197.8" y2="262" stroke="#1b4c8a" stroke-width="1.2" stroke-linecap="round"/>
<text x="192.6" y="272.3" font-size="12.4" fill="#1b4c8a">C<tspan font-size="8.8" dy="2.1">6</tspan><tspan dy="-2.1">F</tspan><tspan font-size="8.8" dy="2.1">5</tspan></text>
<line x1="197.8" y1="254.6" x2="210.6" y2="253.7" stroke="#1b4c8a" stroke-width="2.6" stroke-linecap="round"/>
<line x1="210.6" y1="253.7" x2="212.5" y2="247.5" stroke="#1b4c8a" stroke-width="1.3" stroke-linecap="round"/>
<line x1="212.93" y1="253.6" x2="214.38" y2="248.89" stroke="#1b4c8a" stroke-width="0.9" stroke-linecap="round"/>
<text x="210.4" y="246.3" font-size="12.2" fill="#1b4c8a">N</text>
<line x1="218.5" y1="243" x2="228.8" y2="243.8" stroke="#1b4c8a" stroke-width="1.3" stroke-linecap="round"/>
<line x1="228.8" y1="243.8" x2="234.6" y2="259.6" stroke="#1b4c8a" stroke-width="2.6" stroke-linecap="round"/>
<line x1="234.6" y1="259.6" x2="223" y2="264.5" stroke="#1b4c8a" stroke-width="2.6" stroke-linecap="round"/>
<line x1="232.2" y1="257.79" x2="223.38" y2="261.52" stroke="#1b4c8a" stroke-width="0.9" stroke-linecap="round"/>
<line x1="223" y1="264.5" x2="210.6" y2="253.7" stroke="#1b4c8a" stroke-width="2.6" stroke-linecap="round"/>
<line x1="228.8" y1="243.8" x2="236.3" y2="234.7" stroke="#1b4c8a" stroke-width="2.6" stroke-linecap="round"/>
<line x1="227.69" y1="241.05" x2="233.39" y2="234.14" stroke="#1b4c8a" stroke-width="1" stroke-linecap="round"/>
<text x="28.3" y="226.4" font-size="11.8" fill="#000" font-weight="bold">B</text>
<text x="96.8" y="173.8" font-size="11.8" fill="#1414ff" font-style="italic" stroke="#1414ff" stroke-width="0.15">b</text>
<text x="75.1" y="187.6" font-size="11.8" fill="#1414ff" font-style="italic" stroke="#1414ff" stroke-width="0.15">g</text>
<text x="66.6" y="202" font-size="11.8" fill="#1414ff" font-style="italic" stroke="#1414ff" stroke-width="0.15">h</text>
<text x="98.8" y="221.8" font-size="11.8" fill="#1414ff" font-style="italic" stroke="#1414ff" stroke-width="0.15">c</text>
<text x="117.6" y="194.2" font-size="11.8" fill="#1414ff" font-style="italic" stroke="#1414ff" stroke-width="0.15">f</text>
<text x="134.5" y="208.2" font-size="11.8" fill="#1414ff" font-style="italic" stroke="#1414ff" stroke-width="0.15">e</text>
<text x="122.8" y="216.4" font-size="11.8" fill="#1414ff" font-style="italic" stroke="#1414ff" stroke-width="0.15">d</text>
<text x="112.3" y="226.3" font-size="11.8" fill="#1414ff" font-style="italic" stroke="#1414ff" stroke-width="0.15">a</text>
<text x="159.6" y="226.6" font-size="11.8" fill="#1414ff" font-style="italic" stroke="#1414ff" stroke-width="0.15">i</text>
<text x="165.9" y="225.8" font-size="11.8" fill="#1414ff" font-style="italic" stroke="#1414ff" stroke-width="0.15">i′</text>
<text x="183.4" y="231.5" font-size="11.8" fill="#1414ff" font-style="italic" stroke="#1414ff" stroke-width="0.15">j′</text>
<text x="153" y="246.5" font-size="11.8" fill="#1414ff" font-style="italic" stroke="#1414ff" stroke-width="0.15">j</text>
<text x="176.8" y="266" font-size="11.8" fill="#1414ff" font-style="italic" stroke="#1414ff" stroke-width="0.15">a′</text>
<text x="160.6" y="179.9" font-size="11.8" fill="#1414ff" font-style="italic" stroke="#1414ff" stroke-width="0.15">e′</text>
<text x="178.8" y="170.8" font-size="11.8" fill="#1414ff" font-style="italic" stroke="#1414ff" stroke-width="0.15">f′</text>
<text x="175.5" y="211.4" font-size="11.8" fill="#1414ff" font-style="italic" stroke="#1414ff" stroke-width="0.15">d′</text>
<text x="203.7" y="223.9" font-size="11.8" fill="#1414ff" font-style="italic" stroke="#1414ff" stroke-width="0.15">c′</text>
<text x="236.9" y="193.2" font-size="11.8" fill="#1414ff" font-style="italic" stroke="#1414ff" stroke-width="0.15">g′</text>
<text x="241.9" y="211.4" font-size="11.8" fill="#1414ff" font-style="italic" stroke="#1414ff" stroke-width="0.15">h′</text>
<text x="222" y="169.1" font-size="11.8" fill="#1414ff" font-style="italic" stroke="#1414ff" stroke-width="0.15">b′</text>
<text x="73.5" y="263.6" font-size="11.8" fill="#1414ff" font-style="italic" stroke="#1414ff" stroke-width="0.15">k + l</text>
<text x="231.9" y="268.7" font-size="11.8" fill="#1414ff" font-style="italic" stroke="#1414ff" stroke-width="0.15">k′ + l′</text>
<line x1="276.8" y1="221" x2="317" y2="221" stroke="#333" stroke-width="1.3" stroke-linecap="round"/>
<polygon points="309.7,218.6 317.8,221.4 309.7,221.4" fill="#111"/>
<line x1="276.5" y1="223.8" x2="317.1" y2="223.8" stroke="#333" stroke-width="1.3" stroke-linecap="round"/>
<polygon points="276,223.6 284.3,223.6 284.3,226.2" fill="#111"/>
<line x1="453.5" y1="182.8" x2="468.4" y2="176.6" stroke="#8a8a8a" stroke-width="1" stroke-linecap="round"/>
<line x1="468.4" y1="176.6" x2="480.7" y2="183.7" stroke="#8a8a8a" stroke-width="1" stroke-linecap="round"/>
<line x1="480.7" y1="183.7" x2="478.9" y2="197.7" stroke="#8a8a8a" stroke-width="1" stroke-linecap="round"/>
<line x1="478.9" y1="197.7" x2="462.3" y2="202" stroke="#8a8a8a" stroke-width="1" stroke-linecap="round"/>
<line x1="462.3" y1="202" x2="451.8" y2="196.8" stroke="#8a8a8a" stroke-width="1" stroke-linecap="round"/>
<line x1="451.8" y1="196.8" x2="453.5" y2="182.8" stroke="#8a8a8a" stroke-width="1" stroke-linecap="round"/>
<line x1="456.58" y1="184.33" x2="467.31" y2="179.87" stroke="#8a8a8a" stroke-width="0.8" stroke-linecap="round"/>
<line x1="477.87" y1="185.33" x2="476.57" y2="195.41" stroke="#8a8a8a" stroke-width="0.8" stroke-linecap="round"/>
<line x1="461.98" y1="198.94" x2="454.42" y2="195.2" stroke="#8a8a8a" stroke-width="0.8" stroke-linecap="round"/>
<line x1="502.6" y1="188" x2="517.4" y2="188.9" stroke="#8a8a8a" stroke-width="1" stroke-linecap="round"/>
<line x1="517.4" y1="188.9" x2="521.8" y2="201.2" stroke="#8a8a8a" stroke-width="1" stroke-linecap="round"/>
<line x1="521.8" y1="201.2" x2="512.2" y2="210.8" stroke="#8a8a8a" stroke-width="1" stroke-linecap="round"/>
<line x1="512.2" y1="210.8" x2="495.5" y2="209.9" stroke="#8a8a8a" stroke-width="1" stroke-linecap="round"/>
<line x1="495.5" y1="209.9" x2="492" y2="198.5" stroke="#8a8a8a" stroke-width="1" stroke-linecap="round"/>
<line x1="492" y1="198.5" x2="502.6" y2="188" stroke="#8a8a8a" stroke-width="1" stroke-linecap="round"/>
<line x1="515.57" y1="191.5" x2="518.74" y2="200.35" stroke="#8a8a8a" stroke-width="0.8" stroke-linecap="round"/>
<line x1="510" y1="208.08" x2="497.98" y2="207.43" stroke="#8a8a8a" stroke-width="0.8" stroke-linecap="round"/>
<line x1="495.31" y1="198.88" x2="502.95" y2="191.32" stroke="#8a8a8a" stroke-width="0.8" stroke-linecap="round"/>
<line x1="478.9" y1="197.7" x2="492" y2="198.5" stroke="#8a8a8a" stroke-width="1" stroke-linecap="round"/>
<line x1="480.7" y1="183.7" x2="491.5" y2="180.5" stroke="#8a8a8a" stroke-width="1" stroke-linecap="round"/>
<line x1="499.5" y1="183.5" x2="502.6" y2="188" stroke="#8a8a8a" stroke-width="1" stroke-linecap="round"/>
<text x="491.6" y="184.5" font-size="12.2" fill="#8a8a8a">N</text>
<line x1="501" y1="175.5" x2="509.6" y2="167" stroke="#8a8a8a" stroke-width="1" stroke-linecap="round"/>
<line x1="512.2" y1="210.8" x2="517.4" y2="222.2" stroke="#8a8a8a" stroke-width="1" stroke-linecap="round"/>
<line x1="517.4" y1="222.2" x2="527.1" y2="222.2" stroke="#8a8a8a" stroke-width="1" stroke-linecap="round"/>
<text x="528.6" y="227.4" font-size="12.2" fill="#8a8a8a">Mes</text>
<line x1="453.5" y1="182.8" x2="441" y2="194" stroke="#8a8a8a" stroke-width="1" stroke-linecap="round"/>
<line x1="434.3" y1="200.3" x2="432.1" y2="218.5" stroke="#8a8a8a" stroke-width="1" stroke-linecap="round"/>
<line x1="431.45" y1="202.17" x2="429.78" y2="216" stroke="#8a8a8a" stroke-width="0.8" stroke-linecap="round"/>
<line x1="434.3" y1="200.3" x2="441" y2="204" stroke="#8a8a8a" stroke-width="1" stroke-linecap="round"/>
<line x1="432.1" y1="218.5" x2="424.5" y2="225.5" stroke="#8a8a8a" stroke-width="1" stroke-linecap="round"/>
<line x1="432.1" y1="218.5" x2="441" y2="228" stroke="#8a8a8a" stroke-width="1" stroke-linecap="round"/>
<text x="406.4" y="231.6" font-size="12.2" fill="#8a8a8a">HN</text>
<text x="401.3" y="197.3" font-size="12.2" fill="#8a8a8a">Mes</text>
<line x1="421.5" y1="233" x2="419.1" y2="241.4" stroke="#8a8a8a" stroke-width="1" stroke-linecap="round"/>
<line x1="419.1" y1="241.4" x2="435.7" y2="242.7" stroke="#8a8a8a" stroke-width="1" stroke-linecap="round"/>
<line x1="419.1" y1="241.4" x2="408" y2="251.1" stroke="#8a8a8a" stroke-width="1" stroke-linecap="round"/>
<line x1="419.48" y1="244.52" x2="411.04" y2="251.89" stroke="#8a8a8a" stroke-width="0.8" stroke-linecap="round"/>
<line x1="408" y1="251.1" x2="408.9" y2="261.8" stroke="#8a8a8a" stroke-width="1" stroke-linecap="round"/>
<text x="404.6" y="272.5" font-size="12.4" fill="#8a8a8a">C<tspan font-size="8.8" dy="2.1">6</tspan><tspan dy="-2.1">F</tspan><tspan font-size="8.8" dy="2.1">5</tspan></text>
<line x1="408" y1="251.1" x2="391.5" y2="247.7" stroke="#8a8a8a" stroke-width="1" stroke-linecap="round"/>
<line x1="364.3" y1="221.4" x2="372.6" y2="233.9" stroke="#8a8a8a" stroke-width="1" stroke-linecap="round"/>
<line x1="362.55" y1="223.46" x2="370.02" y2="234.71" stroke="#8a8a8a" stroke-width="0.9" stroke-linecap="round"/>
<line x1="372.6" y1="233.9" x2="384" y2="234.2" stroke="#8a8a8a" stroke-width="1" stroke-linecap="round"/>
<text x="384.6" y="238.9" font-size="12.2" fill="#8a8a8a">N</text>
<line x1="390.5" y1="239.5" x2="391.5" y2="247.7" stroke="#8a8a8a" stroke-width="1" stroke-linecap="round"/>
<line x1="388.44" y1="240.75" x2="389.2" y2="246.98" stroke="#8a8a8a" stroke-width="0.9" stroke-linecap="round"/>
<line x1="391.5" y1="247.7" x2="377.7" y2="256.4" stroke="#8a8a8a" stroke-width="1" stroke-linecap="round"/>
<line x1="377.7" y1="256.4" x2="364.9" y2="247.7" stroke="#8a8a8a" stroke-width="1" stroke-linecap="round"/>
<line x1="377.63" y1="253.21" x2="367.9" y2="246.59" stroke="#8a8a8a" stroke-width="0.9" stroke-linecap="round"/>
<line x1="364.9" y1="247.7" x2="372.6" y2="233.9" stroke="#8a8a8a" stroke-width="1" stroke-linecap="round"/>
<line x1="381.8" y1="157.2" x2="386.2" y2="166" stroke="#94169a" stroke-width="2.6" stroke-linecap="round"/>
<text x="386" y="177.6" font-size="12.2" fill="#94169a">N</text>
<line x1="382.6" y1="182" x2="366.5" y2="182" stroke="#94169a" stroke-width="2.6" stroke-linecap="round"/>
<line x1="366.5" y1="182" x2="362.1" y2="194.4" stroke="#94169a" stroke-width="2.6" stroke-linecap="round"/>
<line x1="362.1" y1="194.4" x2="370.9" y2="209" stroke="#94169a" stroke-width="2.6" stroke-linecap="round"/>
<line x1="370.9" y1="209" x2="386.2" y2="208.3" stroke="#94169a" stroke-width="2.6" stroke-linecap="round"/>
<line x1="386.2" y1="208.3" x2="391.3" y2="195.9" stroke="#94169a" stroke-width="2.6" stroke-linecap="round"/>
<line x1="391.3" y1="195.9" x2="382.6" y2="182" stroke="#94169a" stroke-width="2.6" stroke-linecap="round"/>
<line x1="368.71" y1="184.74" x2="365.54" y2="193.67" stroke="#94169a" stroke-width="1" stroke-linecap="round"/>
<line x1="372.9" y1="205.91" x2="383.92" y2="205.4" stroke="#94169a" stroke-width="1" stroke-linecap="round"/>
<line x1="387.54" y1="195.55" x2="381.28" y2="185.54" stroke="#94169a" stroke-width="1" stroke-linecap="round"/>
<line x1="382.6" y1="182" x2="386.5" y2="176.5" stroke="#94169a" stroke-width="2.6" stroke-linecap="round"/>
<line x1="394.5" y1="175.5" x2="404.4" y2="179.1" stroke="#94169a" stroke-width="2.6" stroke-linecap="round"/>
<line x1="391.3" y1="195.9" x2="405.8" y2="193.7" stroke="#94169a" stroke-width="2.6" stroke-linecap="round"/>
<line x1="404.4" y1="179.1" x2="415.3" y2="172.5" stroke="#94169a" stroke-width="2.6" stroke-linecap="round"/>
<line x1="415.3" y1="172.5" x2="428.5" y2="180.5" stroke="#94169a" stroke-width="2.6" stroke-linecap="round"/>
<line x1="428.5" y1="180.5" x2="431.4" y2="195.1" stroke="#94169a" stroke-width="2.6" stroke-linecap="round"/>
<line x1="431.4" y1="195.1" x2="419.7" y2="201.7" stroke="#94169a" stroke-width="2.6" stroke-linecap="round"/>
<line x1="419.7" y1="201.7" x2="405.8" y2="193.7" stroke="#94169a" stroke-width="2.6" stroke-linecap="round"/>
<line x1="405.8" y1="193.7" x2="404.4" y2="179.1" stroke="#94169a" stroke-width="2.6" stroke-linecap="round"/>
<line x1="415.59" y1="176.19" x2="425.1" y2="181.95" stroke="#94169a" stroke-width="1" stroke-linecap="round"/>
<line x1="428.29" y1="193.41" x2="419.86" y2="198.16" stroke="#94169a" stroke-width="1" stroke-linecap="round"/>
<line x1="408.59" y1="191.37" x2="407.58" y2="180.86" stroke="#94169a" stroke-width="1" stroke-linecap="round"/>
<line x1="370.9" y1="209" x2="364.3" y2="221.4" stroke="#94169a" stroke-width="2.6" stroke-linecap="round"/>
<line x1="364.3" y1="221.4" x2="351.9" y2="221.4" stroke="#94169a" stroke-width="1.2" stroke-linecap="round"/>
<text x="329" y="226.5" font-size="12.2" fill="#94169a">Mes</text>
<line x1="431.4" y1="195.1" x2="447.4" y2="202.4" stroke="#94169a" stroke-width="2.6" stroke-linecap="round"/>
<line x1="447.4" y1="202.4" x2="454.7" y2="198.1" stroke="#94169a" stroke-width="1.2" stroke-linecap="round"/>
<text x="456" y="198.8" font-size="12.2" fill="#94169a">Mes</text>
<line x1="447.4" y1="202.4" x2="448.9" y2="219.2" stroke="#94169a" stroke-width="2.6" stroke-linecap="round"/>
<line x1="443.99" y1="204.74" x2="445.13" y2="217.5" stroke="#94169a" stroke-width="1" stroke-linecap="round"/>
<line x1="448.9" y1="219.2" x2="438" y2="230.6" stroke="#94169a" stroke-width="2.6" stroke-linecap="round"/>
<line x1="438" y1="230.6" x2="444.6" y2="244.1" stroke="#94169a" stroke-width="2.6" stroke-linecap="round"/>
<line x1="436.28" y1="233.45" x2="441.29" y2="243.71" stroke="#94169a" stroke-width="1" stroke-linecap="round"/>
<line x1="444.6" y1="244.1" x2="462.1" y2="242.7" stroke="#94169a" stroke-width="2.6" stroke-linecap="round"/>
<line x1="462.1" y1="242.7" x2="463.5" y2="232" stroke="#94169a" stroke-width="1.3" stroke-linecap="round"/>
<line x1="448.9" y1="219.2" x2="459" y2="223.5" stroke="#94169a" stroke-width="1.3" stroke-linecap="round"/>
<text x="459.6" y="230.9" font-size="12.2" fill="#94169a">NH</text>
<line x1="462.1" y1="242.7" x2="475.9" y2="252.4" stroke="#94169a" stroke-width="2.6" stroke-linecap="round"/>
<line x1="462.15" y1="246.15" x2="472.63" y2="253.53" stroke="#94169a" stroke-width="1" stroke-linecap="round"/>
<line x1="475.9" y1="252.4" x2="473.2" y2="262.2" stroke="#94169a" stroke-width="1.3" stroke-linecap="round"/>
<text x="455.9" y="272.5" font-size="12.4" fill="#94169a">C<tspan font-size="8.8" dy="2.1">6</tspan><tspan dy="-2.1">F</tspan><tspan font-size="8.8" dy="2.1">5</tspan></text>
<line x1="475.9" y1="252.4" x2="489.8" y2="245.5" stroke="#94169a" stroke-width="2.6" stroke-linecap="round"/>
<line x1="489.8" y1="245.5" x2="491.5" y2="239" stroke="#94169a" stroke-width="1.3" stroke-linecap="round"/>
<line x1="492.13" y1="245.28" x2="493.42" y2="240.34" stroke="#94169a" stroke-width="0.9" stroke-linecap="round"/>
<text x="490.1" y="238.8" font-size="12.2" fill="#94169a">N</text>
<line x1="497.5" y1="234" x2="508.7" y2="232.7" stroke="#94169a" stroke-width="1.3" stroke-linecap="round"/>
<line x1="508.7" y1="232.7" x2="516.6" y2="245.8" stroke="#94169a" stroke-width="2.6" stroke-linecap="round"/>
<line x1="516.6" y1="245.8" x2="503.7" y2="253.8" stroke="#94169a" stroke-width="2.6" stroke-linecap="round"/>
<line x1="513.68" y1="244.55" x2="503.88" y2="250.63" stroke="#94169a" stroke-width="0.9" stroke-linecap="round"/>
<line x1="503.7" y1="253.8" x2="489.8" y2="245.5" stroke="#94169a" stroke-width="2.6" stroke-linecap="round"/>
<line x1="508.7" y1="232.7" x2="517.4" y2="222.2" stroke="#94169a" stroke-width="2.6" stroke-linecap="round"/>
<line x1="507.74" y1="229.78" x2="514.35" y2="221.8" stroke="#94169a" stroke-width="1" stroke-linecap="round"/>
<text x="554" y="227.3" font-size="11.8" fill="#000" font-weight="bold">C</text>
<text x="375.1" y="166" font-size="11.8" fill="#1414ff" font-style="italic" stroke="#1414ff" stroke-width="0.15">b</text>
<text x="358.3" y="183.5" font-size="11.8" fill="#1414ff" font-style="italic" stroke="#1414ff" stroke-width="0.15">g</text>
<text x="353.2" y="198.1" font-size="11.8" fill="#1414ff" font-style="italic" stroke="#1414ff" stroke-width="0.15">h</text>
<text x="388.2" y="214.9" font-size="11.8" fill="#1414ff" font-style="italic" stroke="#1414ff" stroke-width="0.15">c</text>
<text x="411" y="211.2" font-size="11.8" fill="#1414ff" font-style="italic" stroke="#1414ff" stroke-width="0.15">d</text>
<text x="414.5" y="170.3" font-size="11.8" fill="#1414ff" font-style="italic" stroke="#1414ff" stroke-width="0.15">f</text>
<text x="429.7" y="179.1" font-size="11.8" fill="#1414ff" font-style="italic" stroke="#1414ff" stroke-width="0.15">e</text>
<text x="399.1" y="226.5" font-size="11.8" fill="#1414ff" font-style="italic" stroke="#1414ff" stroke-width="0.15">a</text>
<text x="447.2" y="232.4" font-size="11.8" fill="#1414ff" font-style="italic" stroke="#1414ff" stroke-width="0.15">i</text>
<text x="435.5" y="253.8" font-size="11.8" fill="#1414ff" font-style="italic" stroke="#1414ff" stroke-width="0.15">j</text>
<text x="349.5" y="262.2" font-size="11.8" fill="#1414ff" font-style="italic" stroke="#1414ff" stroke-width="0.15">k + l</text>
</svg>
</body></html>
